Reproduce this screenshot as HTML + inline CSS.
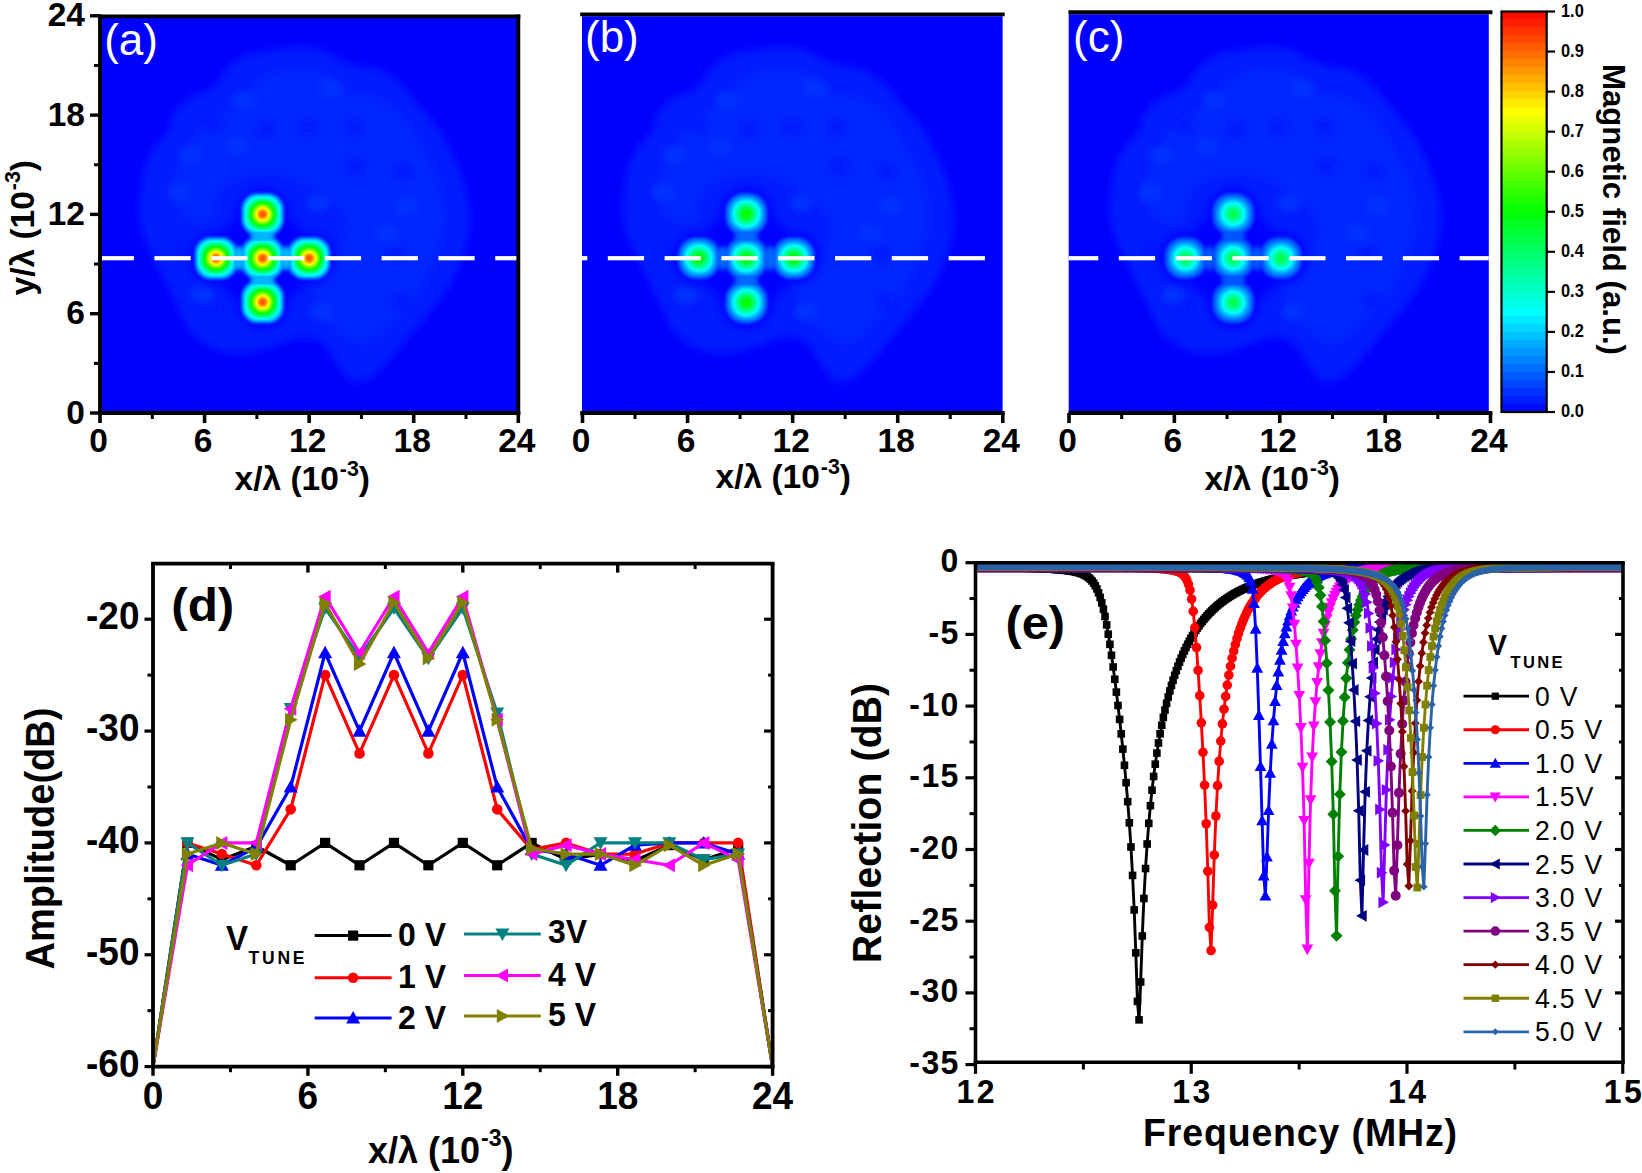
<!DOCTYPE html>
<html lang="en"><head><meta charset="utf-8"><title>Figure</title>
<style>html,body{margin:0;padding:0;background:#fff;}svg{display:block;}text{font-family:'Liberation Sans', Arial, sans-serif;}</style>
</head><body>
<svg width="1642" height="1173" viewBox="0 0 1642 1173">
<defs>
<filter id="bl" x="-20%" y="-20%" width="140%" height="140%"><feGaussianBlur stdDeviation="5"/></filter>
<filter id="bl2" x="-30%" y="-30%" width="160%" height="160%"><feGaussianBlur stdDeviation="3.6"/></filter>
<filter id="bl4" x="-10%" y="-10%" width="120%" height="120%"><feGaussianBlur stdDeviation="0.7"/></filter>
<filter id="bl3" x="-30%" y="-30%" width="160%" height="160%"><feGaussianBlur stdDeviation="2.2"/></filter>
</defs>
<rect x="0" y="0" width="1642" height="1173" fill="#fff"/>
<defs>
<g id="gao">
<rect x="-24" y="-24" width="48" height="48" rx="18.24" fill="#0023ff" opacity="0.12"/>
<rect x="-23.25" y="-23.25" width="46.5" height="46.5" rx="17.67" fill="#0033ff" opacity="0.27"/>
<rect x="-22.5" y="-22.5" width="45" height="45" rx="17.1" fill="#0043ff" opacity="0.42"/>
<rect x="-21.75" y="-21.75" width="43.5" height="43.5" rx="16.53" fill="#0053ff" opacity="0.57"/>
<rect x="-21" y="-21" width="42" height="42" rx="15.96" fill="#0071ff" opacity="0.72"/>
<rect x="-20.25" y="-20.25" width="40.5" height="40.5" rx="15.39" fill="#008fff" opacity="0.87"/>
<rect x="-19.5" y="-19.5" width="39" height="39" rx="14.82" fill="#00adff"/>
<rect x="-18.75" y="-18.75" width="37.5" height="37.5" rx="14.37" fill="#00caff"/>
<rect x="-18" y="-18" width="36" height="36" rx="14.16" fill="#00e8ff"/>
</g>
<g id="gai">
<rect x="-17.25" y="-17.25" width="34.5" height="34.5" rx="13.91" fill="#00fff8"/>
<rect x="-16.5" y="-16.5" width="33" height="33" rx="13.64" fill="#00ffd7"/>
<rect x="-15.75" y="-15.75" width="31.5" height="31.5" rx="13.34" fill="#00ffb6"/>
<rect x="-15" y="-15" width="30" height="30" rx="13" fill="#00ff95"/>
<rect x="-14.25" y="-14.25" width="28.5" height="28.5" rx="12.64" fill="#00ff72"/>
<rect x="-13.5" y="-13.5" width="27" height="27" rx="12.24" fill="#00ff4d"/>
<rect x="-12.75" y="-12.75" width="25.5" height="25.5" rx="11.81" fill="#00ff29"/>
<rect x="-12" y="-12" width="24" height="24" rx="11.36" fill="#00ff04"/>
<rect x="-11.25" y="-11.25" width="22.5" height="22.5" rx="10.88" fill="#21ff00"/>
<rect x="-10.5" y="-10.5" width="21" height="21" rx="10.36" fill="#45ff00"/>
<rect x="-9.75" y="-9.75" width="19.5" height="19.5" rx="9.75" fill="#6aff00"/>
<rect x="-9" y="-9" width="18" height="18" rx="9" fill="#8eff00"/>
<rect x="-8.25" y="-8.25" width="16.5" height="16.5" rx="8.25" fill="#b4ff00"/>
<rect x="-7.5" y="-7.5" width="15" height="15" rx="7.5" fill="#d9ff00"/>
<rect x="-6.75" y="-6.75" width="13.5" height="13.5" rx="6.75" fill="#ffff00"/>
<rect x="-6" y="-6" width="12" height="12" rx="6" fill="#ffe000"/>
<rect x="-5.25" y="-5.25" width="10.5" height="10.5" rx="5.25" fill="#ffc300"/>
<rect x="-4.5" y="-4.5" width="9" height="9" rx="4.5" fill="#ffa700"/>
<rect x="-3.75" y="-3.75" width="7.5" height="7.5" rx="3.75" fill="#ff8a00"/>
<rect x="-3" y="-3" width="6" height="6" rx="3" fill="#ff6d00"/>
<rect x="-2.25" y="-2.25" width="4.5" height="4.5" rx="2.25" fill="#ff6100"/>
<rect x="-1.5" y="-1.5" width="3" height="3" rx="1.5" fill="#ff5500"/>
<rect x="-0.75" y="-0.75" width="1.5" height="1.5" rx="0.75" fill="#ff4900"/>
</g>
<g id="gbo">
<rect x="-24" y="-24" width="48" height="48" rx="20.88" fill="#0014ff" opacity="0.12"/>
<rect x="-23.25" y="-23.25" width="46.5" height="46.5" rx="20.23" fill="#001dff" opacity="0.27"/>
<rect x="-22.5" y="-22.5" width="45" height="45" rx="19.57" fill="#0026ff" opacity="0.42"/>
<rect x="-21.75" y="-21.75" width="43.5" height="43.5" rx="18.92" fill="#002fff" opacity="0.57"/>
<rect x="-21" y="-21" width="42" height="42" rx="18.27" fill="#0040ff" opacity="0.72"/>
<rect x="-20.25" y="-20.25" width="40.5" height="40.5" rx="17.62" fill="#0051ff" opacity="0.87"/>
<rect x="-19.5" y="-19.5" width="39" height="39" rx="16.96" fill="#0061ff"/>
<rect x="-18.75" y="-18.75" width="37.5" height="37.5" rx="16.38" fill="#0072ff"/>
<rect x="-18" y="-18" width="36" height="36" rx="15.92" fill="#0083ff"/>
</g>
<g id="gbi">
<rect x="-17.25" y="-17.25" width="34.5" height="34.5" rx="15.44" fill="#0094ff"/>
<rect x="-16.5" y="-16.5" width="33" height="33" rx="14.95" fill="#00a6ff"/>
<rect x="-15.75" y="-15.75" width="31.5" height="31.5" rx="14.44" fill="#00b9ff"/>
<rect x="-15" y="-15" width="30" height="30" rx="13.92" fill="#00ccff"/>
<rect x="-14.25" y="-14.25" width="28.5" height="28.5" rx="13.38" fill="#00dfff"/>
<rect x="-13.5" y="-13.5" width="27" height="27" rx="12.82" fill="#00f4ff"/>
<rect x="-12.75" y="-12.75" width="25.5" height="25.5" rx="12.24" fill="#00fff5"/>
<rect x="-12" y="-12" width="24" height="24" rx="11.65" fill="#00ffe1"/>
<rect x="-11.25" y="-11.25" width="22.5" height="22.5" rx="11.05" fill="#00ffcc"/>
<rect x="-10.5" y="-10.5" width="21" height="21" rx="10.42" fill="#00ffb8"/>
<rect x="-9.75" y="-9.75" width="19.5" height="19.5" rx="9.75" fill="#00ffa3"/>
<rect x="-9" y="-9" width="18" height="18" rx="9" fill="#00ff8e"/>
<rect x="-8.25" y="-8.25" width="16.5" height="16.5" rx="8.25" fill="#00ff79"/>
<rect x="-7.5" y="-7.5" width="15" height="15" rx="7.5" fill="#00ff64"/>
<rect x="-6.75" y="-6.75" width="13.5" height="13.5" rx="6.75" fill="#00ff4f"/>
<rect x="-6" y="-6" width="12" height="12" rx="6" fill="#00ff3d"/>
<rect x="-5.25" y="-5.25" width="10.5" height="10.5" rx="5.25" fill="#00ff2d"/>
<rect x="-4.5" y="-4.5" width="9" height="9" rx="4.5" fill="#00ff1d"/>
<rect x="-3.75" y="-3.75" width="7.5" height="7.5" rx="3.75" fill="#00ff0d"/>
<rect x="-3" y="-3" width="6" height="6" rx="3" fill="#04ff00"/>
<rect x="-2.25" y="-2.25" width="4.5" height="4.5" rx="2.25" fill="#0aff00"/>
<rect x="-1.5" y="-1.5" width="3" height="3" rx="1.5" fill="#11ff00"/>
<rect x="-0.75" y="-0.75" width="1.5" height="1.5" rx="0.75" fill="#18ff00"/>
</g>
<g id="gco">
<rect x="-24" y="-24" width="48" height="48" rx="20.88" fill="#0010ff" opacity="0.12"/>
<rect x="-23.25" y="-23.25" width="46.5" height="46.5" rx="20.23" fill="#0018ff" opacity="0.27"/>
<rect x="-22.5" y="-22.5" width="45" height="45" rx="19.57" fill="#001fff" opacity="0.42"/>
<rect x="-21.75" y="-21.75" width="43.5" height="43.5" rx="18.92" fill="#0027ff" opacity="0.57"/>
<rect x="-21" y="-21" width="42" height="42" rx="18.27" fill="#0035ff" opacity="0.72"/>
<rect x="-20.25" y="-20.25" width="40.5" height="40.5" rx="17.62" fill="#0043ff" opacity="0.87"/>
<rect x="-19.5" y="-19.5" width="39" height="39" rx="16.96" fill="#0051ff"/>
<rect x="-18.75" y="-18.75" width="37.5" height="37.5" rx="16.38" fill="#005fff"/>
<rect x="-18" y="-18" width="36" height="36" rx="15.92" fill="#006dff"/>
</g>
<g id="gci">
<rect x="-17.25" y="-17.25" width="34.5" height="34.5" rx="15.44" fill="#007aff"/>
<rect x="-16.5" y="-16.5" width="33" height="33" rx="14.95" fill="#008aff"/>
<rect x="-15.75" y="-15.75" width="31.5" height="31.5" rx="14.44" fill="#009aff"/>
<rect x="-15" y="-15" width="30" height="30" rx="13.92" fill="#00a9ff"/>
<rect x="-14.25" y="-14.25" width="28.5" height="28.5" rx="13.38" fill="#00b9ff"/>
<rect x="-13.5" y="-13.5" width="27" height="27" rx="12.82" fill="#00caff"/>
<rect x="-12.75" y="-12.75" width="25.5" height="25.5" rx="12.24" fill="#00dcff"/>
<rect x="-12" y="-12" width="24" height="24" rx="11.65" fill="#00edff"/>
<rect x="-11.25" y="-11.25" width="22.5" height="22.5" rx="11.05" fill="#00feff"/>
<rect x="-10.5" y="-10.5" width="21" height="21" rx="10.42" fill="#00ffef"/>
<rect x="-9.75" y="-9.75" width="19.5" height="19.5" rx="9.75" fill="#00ffde"/>
<rect x="-9" y="-9" width="18" height="18" rx="9" fill="#00ffcd"/>
<rect x="-8.25" y="-8.25" width="16.5" height="16.5" rx="8.25" fill="#00ffbb"/>
<rect x="-7.5" y="-7.5" width="15" height="15" rx="7.5" fill="#00ffa9"/>
<rect x="-6.75" y="-6.75" width="13.5" height="13.5" rx="6.75" fill="#00ff98"/>
<rect x="-6" y="-6" width="12" height="12" rx="6" fill="#00ff89"/>
<rect x="-5.25" y="-5.25" width="10.5" height="10.5" rx="5.25" fill="#00ff7c"/>
<rect x="-4.5" y="-4.5" width="9" height="9" rx="4.5" fill="#00ff6f"/>
<rect x="-3.75" y="-3.75" width="7.5" height="7.5" rx="3.75" fill="#00ff61"/>
<rect x="-3" y="-3" width="6" height="6" rx="3" fill="#00ff54"/>
<rect x="-2.25" y="-2.25" width="4.5" height="4.5" rx="2.25" fill="#00ff4e"/>
<rect x="-1.5" y="-1.5" width="3" height="3" rx="1.5" fill="#00ff48"/>
<rect x="-0.75" y="-0.75" width="1.5" height="1.5" rx="0.75" fill="#00ff43"/>
</g>
</defs>
<rect x="101.5" y="18" width="415.5" height="393.5" fill="#0000ff" />
<clipPath id="cpa"><rect x="101.5" y="18" width="415.5" height="393.5"/></clipPath>
<g clip-path="url(#cpa)">
<g filter="url(#bl)">
<path d="M139.21,205.93C139.49,197.41 140.63,184.34 142.62,175.25C144.61,166.15 146.88,158.77 151.14,151.38C155.4,143.99 164.5,137.17 168.19,130.92C171.88,124.67 169.89,119.27 173.3,113.87C176.71,108.48 182.11,102.79 188.65,98.53C195.18,94.27 206.26,93.13 212.51,88.3C218.76,83.47 221.04,74.95 226.15,69.55C231.26,64.15 236.38,59.04 243.2,55.91C250.02,52.79 259.11,52.22 267.06,50.8C275.02,49.38 282.41,47.67 290.93,47.39C299.45,47.11 310.25,47.11 318.21,49.09C326.16,51.08 331.84,56.48 338.66,59.32C345.48,62.16 352.3,64.44 359.12,66.14C365.94,67.85 372.76,66.71 379.58,69.55C386.4,72.39 393.78,77.51 400.03,83.19C406.28,88.87 410.83,96.26 417.08,103.65C423.33,111.03 431.29,118.42 437.54,127.51C443.79,136.6 449.76,147.4 454.59,158.2C459.42,168.99 463.96,180.93 466.52,192.29C469.08,203.66 470.78,215.02 469.93,226.39C469.08,237.75 465.1,250.25 461.4,260.48C457.71,270.71 453.45,278.67 447.77,287.76C442.08,296.85 434.13,306.51 427.31,315.03C420.49,323.56 413.1,331.51 406.85,338.9C400.6,346.29 395.49,353.11 389.81,359.36C384.12,365.61 379.01,372.71 372.76,376.4C366.51,380.1 357.98,383.22 352.3,381.52C346.62,379.81 343.78,372.71 338.66,366.18C333.55,359.64 327.87,347.14 321.62,342.31C315.37,337.48 307.98,336.91 301.16,337.2C294.34,337.48 289.23,341.46 280.7,344.01C272.18,346.57 260.25,351.4 250.02,352.54C239.79,353.67 228.99,353.96 219.33,350.83C209.67,347.71 199.16,341.46 192.06,333.79C184.95,326.11 181.26,313.61 176.71,304.81C172.17,296 169.04,289.46 164.78,280.94C160.52,272.42 155.12,262.76 151.14,253.66C147.16,244.57 142.9,234.34 140.91,226.39C138.92,218.43 138.92,214.45 139.21,205.93Z" fill="#001aff"/>
<path d="M171.6,192.29C171.03,182.06 180.12,168.99 185.24,158.2C190.35,147.4 193.76,136.6 202.28,127.51C210.81,118.42 226.72,111.6 236.38,103.65C246.04,95.69 251.15,85.46 260.25,79.78C269.34,74.1 280.13,70.69 290.93,69.55C301.73,68.42 315.93,68.98 325.03,72.96C334.12,76.94 337.53,89.44 345.48,93.42C353.44,97.4 363.67,93.42 372.76,96.83C381.85,100.24 392.08,105.92 400.03,113.87C407.99,121.83 414.24,133.76 420.49,144.56C426.74,155.36 433.56,166.15 437.54,178.65C441.52,191.16 444.93,205.93 444.36,219.57C443.79,233.21 438.67,247.98 434.13,260.48C429.58,272.98 423.9,284.35 417.08,294.58C410.26,304.81 401.74,313.9 393.22,321.85C384.69,329.81 375.03,340.61 365.94,342.31C356.85,344.01 346.62,337.76 338.66,332.08C330.71,326.4 322.75,317.88 318.21,308.22C313.66,298.55 307.98,283.21 311.39,274.12C314.8,265.03 332.98,262.76 338.66,253.66C344.35,244.57 348.89,229.8 345.48,219.57C342.07,209.34 328.44,199.68 318.21,192.29C307.98,184.91 296.05,178.09 284.11,175.25C272.18,172.4 257.4,172.4 246.61,175.25C235.81,178.09 225.01,184.91 219.33,192.29C213.65,199.68 217.63,215.02 212.51,219.57C207.4,224.11 195.47,224.11 188.65,219.57C181.83,215.02 172.17,202.52 171.6,192.29Z" fill="#0026ff"/>
</g>
<g filter="url(#bl2)">
<ellipse cx="214.22" cy="124.79" rx="8" ry="6" fill="#0012ff"/>
<ellipse cx="265.36" cy="129.22" rx="8" ry="6" fill="#0012ff"/>
<ellipse cx="307.98" cy="127.51" rx="8" ry="6" fill="#0012ff"/>
<ellipse cx="354.01" cy="127.51" rx="8" ry="6" fill="#0012ff"/>
<ellipse cx="403.44" cy="171.84" rx="8" ry="6" fill="#0012ff"/>
<ellipse cx="355.71" cy="166.72" rx="8" ry="6" fill="#0012ff"/>
<ellipse cx="401.74" cy="301.4" rx="8" ry="6" fill="#0012ff"/>
<ellipse cx="396.62" cy="253.66" rx="8" ry="6" fill="#0012ff"/>
<ellipse cx="212.51" cy="308.22" rx="8" ry="6" fill="#0012ff"/>
<ellipse cx="181.83" cy="250.25" rx="8" ry="6" fill="#0012ff"/>
<ellipse cx="331.84" cy="88.3" rx="12" ry="9" fill="#0032ff"/>
<ellipse cx="190.35" cy="154.79" rx="12" ry="9" fill="#0032ff"/>
<ellipse cx="236.38" cy="146.26" rx="12" ry="9" fill="#0032ff"/>
<ellipse cx="180.12" cy="192.29" rx="12" ry="9" fill="#0032ff"/>
<ellipse cx="318.21" cy="202.52" rx="12" ry="9" fill="#0032ff"/>
<ellipse cx="321.62" cy="311.62" rx="12" ry="9" fill="#0032ff"/>
<ellipse cx="386.4" cy="233.21" rx="12" ry="9" fill="#0032ff"/>
<ellipse cx="243.2" cy="100.24" rx="12" ry="9" fill="#0032ff"/>
<ellipse cx="406.85" cy="205.93" rx="12" ry="9" fill="#0032ff"/>
<ellipse cx="202.28" cy="294.58" rx="12" ry="9" fill="#0032ff"/>
</g>
<g filter="url(#bl)">
<rect x="190" y="232.2" width="145.2" height="52" rx="26" fill="#0002ff"/>
<rect x="236.6" y="188.3" width="52" height="139.8" rx="26" fill="#0002ff"/>
<circle cx="262.6" cy="258.2" r="48" fill="#0002ff"/>
</g>
<g filter="url(#bl4)">
<use href="#gao" x="262.6" y="258.2"/>
<use href="#gao" x="216" y="258.2"/>
<use href="#gao" x="309.2" y="258.2"/>
<use href="#gao" x="262.6" y="214.3"/>
<use href="#gao" x="262.6" y="302.1"/>
</g>
<g filter="url(#bl3)">
<ellipse cx="239.3" cy="258.2" rx="6" ry="12" fill="#00b8ff"/>
<ellipse cx="285.9" cy="258.2" rx="6" ry="12" fill="#00b8ff"/>
<ellipse cx="262.6" cy="236.25" rx="12" ry="6" fill="#00b8ff"/>
<ellipse cx="262.6" cy="280.15" rx="12" ry="6" fill="#00b8ff"/>
</g>
<g filter="url(#bl4)">
<use href="#gai" x="262.6" y="258.2"/>
<use href="#gai" x="216" y="258.2"/>
<use href="#gai" x="309.2" y="258.2"/>
<use href="#gai" x="262.6" y="214.3"/>
<use href="#gai" x="262.6" y="302.1"/>
</g>
</g>
<clipPath id="dca"><rect x="101.5" y="0" width="415.5" height="430"/></clipPath>
<g clip-path="url(#dca)">
<rect x="97.6" y="256.1" width="36.3" height="4.2" fill="#fff"/>
<rect x="154.4" y="256.1" width="36.3" height="4.2" fill="#fff"/>
<rect x="211.2" y="256.1" width="36.3" height="4.2" fill="#fff"/>
<rect x="268" y="256.1" width="36.3" height="4.2" fill="#fff"/>
<rect x="324.8" y="256.1" width="36.3" height="4.2" fill="#fff"/>
<rect x="381.6" y="256.1" width="36.3" height="4.2" fill="#fff"/>
<rect x="438.4" y="256.1" width="36.3" height="4.2" fill="#fff"/>
<rect x="495.2" y="256.1" width="36.3" height="4.2" fill="#fff"/>
</g>
<line x1="98" y1="16.4" x2="520.3" y2="16.4" stroke="#000" stroke-width="3.9" />
<line x1="98" y1="413" x2="520.3" y2="413" stroke="#000" stroke-width="3.9" />
<line x1="100" y1="14.5" x2="100" y2="415" stroke="#000" stroke-width="3.9" />
<line x1="518.3" y1="14.5" x2="518.3" y2="415" stroke="#000" stroke-width="3.9" />
<line x1="100" y1="413" x2="100" y2="423" stroke="#000" stroke-width="3.6" />
<text x="98.5" y="451.5" font-size="33.5" font-weight="bold" text-anchor="middle" fill="#000" >0</text>
<line x1="152.29" y1="413" x2="152.29" y2="419" stroke="#000" stroke-width="3" />
<line x1="204.57" y1="413" x2="204.57" y2="423" stroke="#000" stroke-width="3.6" />
<text x="203.07" y="451.5" font-size="33.5" font-weight="bold" text-anchor="middle" fill="#000" >6</text>
<line x1="256.86" y1="413" x2="256.86" y2="419" stroke="#000" stroke-width="3" />
<line x1="309.15" y1="413" x2="309.15" y2="423" stroke="#000" stroke-width="3.6" />
<text x="307.65" y="451.5" font-size="33.5" font-weight="bold" text-anchor="middle" fill="#000" >12</text>
<line x1="361.44" y1="413" x2="361.44" y2="419" stroke="#000" stroke-width="3" />
<line x1="413.72" y1="413" x2="413.72" y2="423" stroke="#000" stroke-width="3.6" />
<text x="412.22" y="451.5" font-size="33.5" font-weight="bold" text-anchor="middle" fill="#000" >18</text>
<line x1="466.01" y1="413" x2="466.01" y2="419" stroke="#000" stroke-width="3" />
<line x1="518.3" y1="413" x2="518.3" y2="423" stroke="#000" stroke-width="3.6" />
<text x="516.8" y="451.5" font-size="33.5" font-weight="bold" text-anchor="middle" fill="#000" >24</text>
<text x="104.2" y="54.7" font-size="44" font-weight="normal" text-anchor="start" fill="#fff" >(a)</text>
<text x="234.5" y="490" font-size="33.5" font-weight="bold" fill="#000">x/λ (10<tspan font-size="21.44" dx="1" dy="-14.4">-3</tspan><tspan dy="14.4">)</tspan></text>
<line x1="90" y1="413" x2="100" y2="413" stroke="#000" stroke-width="3.4" />
<text x="85" y="423.5" font-size="33.5" font-weight="bold" text-anchor="end" fill="#000" >0</text>
<line x1="94" y1="363.35" x2="100" y2="363.35" stroke="#000" stroke-width="3" />
<line x1="90" y1="313.7" x2="100" y2="313.7" stroke="#000" stroke-width="3.4" />
<text x="85" y="324.2" font-size="33.5" font-weight="bold" text-anchor="end" fill="#000" >6</text>
<line x1="94" y1="264.05" x2="100" y2="264.05" stroke="#000" stroke-width="3" />
<line x1="90" y1="214.4" x2="100" y2="214.4" stroke="#000" stroke-width="3.4" />
<text x="85" y="224.9" font-size="33.5" font-weight="bold" text-anchor="end" fill="#000" >12</text>
<line x1="94" y1="164.75" x2="100" y2="164.75" stroke="#000" stroke-width="3" />
<line x1="90" y1="115.1" x2="100" y2="115.1" stroke="#000" stroke-width="3.4" />
<text x="85" y="125.6" font-size="33.5" font-weight="bold" text-anchor="end" fill="#000" >18</text>
<line x1="94" y1="65.45" x2="100" y2="65.45" stroke="#000" stroke-width="3" />
<line x1="90" y1="15.8" x2="100" y2="15.8" stroke="#000" stroke-width="3.4" />
<text x="85" y="26.3" font-size="33.5" font-weight="bold" text-anchor="end" fill="#000" >24</text>
<g transform="translate(34,295.5) rotate(-90)">
<text x="0" y="0" font-size="33.5" font-weight="bold" fill="#000">y/λ (10<tspan font-size="21.44" dx="1" dy="-14.4">-3</tspan><tspan dy="14.4">)</tspan></text>
</g>
<rect x="582" y="16.2" width="420.6" height="395.3" fill="#0000ff" />
<clipPath id="cpb"><rect x="582" y="16.2" width="420.6" height="395.3"/></clipPath>
<g clip-path="url(#cpb)">
<g filter="url(#bl)">
<path d="M623.01,205.93C623.29,197.41 624.43,184.34 626.42,175.25C628.41,166.15 630.68,158.77 634.94,151.38C639.2,143.99 648.3,137.17 651.99,130.92C655.68,124.67 653.69,119.27 657.1,113.87C660.51,108.48 665.91,102.79 672.45,98.53C678.98,94.27 690.06,93.13 696.31,88.3C702.56,83.47 704.84,74.95 709.95,69.55C715.06,64.15 720.18,59.04 727,55.91C733.82,52.79 742.91,52.22 750.86,50.8C758.82,49.38 766.21,47.67 774.73,47.39C783.25,47.11 794.05,47.11 802.01,49.09C809.96,51.08 815.64,56.48 822.46,59.32C829.28,62.16 836.1,64.44 842.92,66.14C849.74,67.85 856.56,66.71 863.38,69.55C870.2,72.39 877.58,77.51 883.83,83.19C890.08,88.87 894.63,96.26 900.88,103.65C907.13,111.03 915.09,118.42 921.34,127.51C927.59,136.6 933.56,147.4 938.39,158.2C943.22,168.99 947.76,180.93 950.32,192.29C952.88,203.66 954.58,215.02 953.73,226.39C952.88,237.75 948.9,250.25 945.2,260.48C941.51,270.71 937.25,278.67 931.57,287.76C925.88,296.85 917.93,306.51 911.11,315.03C904.29,323.56 896.9,331.51 890.65,338.9C884.4,346.29 879.29,353.11 873.61,359.36C867.92,365.61 862.81,372.71 856.56,376.4C850.31,380.1 841.78,383.22 836.1,381.52C830.42,379.81 827.58,372.71 822.46,366.18C817.35,359.64 811.67,347.14 805.42,342.31C799.17,337.48 791.78,336.91 784.96,337.2C778.14,337.48 773.03,341.46 764.5,344.01C755.98,346.57 744.05,351.4 733.82,352.54C723.59,353.67 712.79,353.96 703.13,350.83C693.47,347.71 682.96,341.46 675.86,333.79C668.75,326.11 665.06,313.61 660.51,304.81C655.97,296 652.84,289.46 648.58,280.94C644.32,272.42 638.92,262.76 634.94,253.66C630.96,244.57 626.7,234.34 624.71,226.39C622.72,218.43 622.72,214.45 623.01,205.93Z" fill="#001aff"/>
<path d="M655.4,192.29C654.83,182.06 663.92,168.99 669.04,158.2C674.15,147.4 677.56,136.6 686.08,127.51C694.61,118.42 710.52,111.6 720.18,103.65C729.84,95.69 734.95,85.46 744.05,79.78C753.14,74.1 763.93,70.69 774.73,69.55C785.53,68.42 799.73,68.98 808.83,72.96C817.92,76.94 821.33,89.44 829.28,93.42C837.24,97.4 847.47,93.42 856.56,96.83C865.65,100.24 875.88,105.92 883.83,113.87C891.79,121.83 898.04,133.76 904.29,144.56C910.54,155.36 917.36,166.15 921.34,178.65C925.32,191.16 928.73,205.93 928.16,219.57C927.59,233.21 922.47,247.98 917.93,260.48C913.38,272.98 907.7,284.35 900.88,294.58C894.06,304.81 885.54,313.9 877.02,321.85C868.49,329.81 858.83,340.61 849.74,342.31C840.65,344.01 830.42,337.76 822.46,332.08C814.51,326.4 806.55,317.88 802.01,308.22C797.46,298.55 791.78,283.21 795.19,274.12C798.6,265.03 816.78,262.76 822.46,253.66C828.15,244.57 832.69,229.8 829.28,219.57C825.87,209.34 812.24,199.68 802.01,192.29C791.78,184.91 779.85,178.09 767.91,175.25C755.98,172.4 741.2,172.4 730.41,175.25C719.61,178.09 708.81,184.91 703.13,192.29C697.45,199.68 701.43,215.02 696.31,219.57C691.2,224.11 679.27,224.11 672.45,219.57C665.63,215.02 655.97,202.52 655.4,192.29Z" fill="#0026ff"/>
</g>
<g filter="url(#bl2)">
<ellipse cx="698.02" cy="124.79" rx="8" ry="6" fill="#0012ff"/>
<ellipse cx="749.16" cy="129.22" rx="8" ry="6" fill="#0012ff"/>
<ellipse cx="791.78" cy="127.51" rx="8" ry="6" fill="#0012ff"/>
<ellipse cx="837.81" cy="127.51" rx="8" ry="6" fill="#0012ff"/>
<ellipse cx="887.24" cy="171.84" rx="8" ry="6" fill="#0012ff"/>
<ellipse cx="839.51" cy="166.72" rx="8" ry="6" fill="#0012ff"/>
<ellipse cx="885.54" cy="301.4" rx="8" ry="6" fill="#0012ff"/>
<ellipse cx="880.42" cy="253.66" rx="8" ry="6" fill="#0012ff"/>
<ellipse cx="696.31" cy="308.22" rx="8" ry="6" fill="#0012ff"/>
<ellipse cx="665.63" cy="250.25" rx="8" ry="6" fill="#0012ff"/>
<ellipse cx="815.64" cy="88.3" rx="12" ry="9" fill="#0032ff"/>
<ellipse cx="674.15" cy="154.79" rx="12" ry="9" fill="#0032ff"/>
<ellipse cx="720.18" cy="146.26" rx="12" ry="9" fill="#0032ff"/>
<ellipse cx="663.92" cy="192.29" rx="12" ry="9" fill="#0032ff"/>
<ellipse cx="802.01" cy="202.52" rx="12" ry="9" fill="#0032ff"/>
<ellipse cx="805.42" cy="311.62" rx="12" ry="9" fill="#0032ff"/>
<ellipse cx="870.2" cy="233.21" rx="12" ry="9" fill="#0032ff"/>
<ellipse cx="727" cy="100.24" rx="12" ry="9" fill="#0032ff"/>
<ellipse cx="890.65" cy="205.93" rx="12" ry="9" fill="#0032ff"/>
<ellipse cx="686.08" cy="294.58" rx="12" ry="9" fill="#0032ff"/>
</g>
<g filter="url(#bl)">
<rect x="672.9" y="232.2" width="147" height="52" rx="26" fill="#0002ff"/>
<rect x="720.4" y="188" width="52" height="140.4" rx="26" fill="#0002ff"/>
<circle cx="746.4" cy="258.2" r="48" fill="#0002ff"/>
</g>
<g filter="url(#bl4)">
<use href="#gbo" x="746.4" y="258.2"/>
<use href="#gbo" x="698.9" y="258.2"/>
<use href="#gbo" x="793.9" y="258.2"/>
<use href="#gbo" x="746.4" y="214"/>
<use href="#gbo" x="746.4" y="302.4"/>
</g>
<g filter="url(#bl3)">
<ellipse cx="722.65" cy="258.2" rx="6" ry="12" fill="#0068ff"/>
<ellipse cx="770.15" cy="258.2" rx="6" ry="12" fill="#0068ff"/>
<ellipse cx="746.4" cy="236.1" rx="12" ry="6" fill="#0068ff"/>
<ellipse cx="746.4" cy="280.3" rx="12" ry="6" fill="#0068ff"/>
</g>
<g filter="url(#bl4)">
<use href="#gbi" x="746.4" y="258.2"/>
<use href="#gbi" x="698.9" y="258.2"/>
<use href="#gbi" x="793.9" y="258.2"/>
<use href="#gbi" x="746.4" y="214"/>
<use href="#gbi" x="746.4" y="302.4"/>
</g>
</g>
<clipPath id="dcb"><rect x="582" y="0" width="420.6" height="430"/></clipPath>
<g clip-path="url(#dcb)">
<rect x="551" y="256.1" width="36.3" height="4.2" fill="#fff"/>
<rect x="607.8" y="256.1" width="36.3" height="4.2" fill="#fff"/>
<rect x="664.6" y="256.1" width="36.3" height="4.2" fill="#fff"/>
<rect x="721.4" y="256.1" width="36.3" height="4.2" fill="#fff"/>
<rect x="778.2" y="256.1" width="36.3" height="4.2" fill="#fff"/>
<rect x="835" y="256.1" width="36.3" height="4.2" fill="#fff"/>
<rect x="891.8" y="256.1" width="36.3" height="4.2" fill="#fff"/>
<rect x="948.6" y="256.1" width="36.3" height="4.2" fill="#fff"/>
</g>
<line x1="580.2" y1="14.4" x2="1004.7" y2="14.4" stroke="#000" stroke-width="3.9" />
<line x1="580.2" y1="413" x2="1004.7" y2="413" stroke="#000" stroke-width="3.9" />
<line x1="582.5" y1="413" x2="582.5" y2="423" stroke="#000" stroke-width="3.6" />
<text x="581" y="451.5" font-size="33.5" font-weight="bold" text-anchor="middle" fill="#000" >0</text>
<line x1="635.04" y1="413" x2="635.04" y2="419" stroke="#000" stroke-width="3" />
<line x1="687.58" y1="413" x2="687.58" y2="423" stroke="#000" stroke-width="3.6" />
<text x="686.08" y="451.5" font-size="33.5" font-weight="bold" text-anchor="middle" fill="#000" >6</text>
<line x1="740.11" y1="413" x2="740.11" y2="419" stroke="#000" stroke-width="3" />
<line x1="792.65" y1="413" x2="792.65" y2="423" stroke="#000" stroke-width="3.6" />
<text x="791.15" y="451.5" font-size="33.5" font-weight="bold" text-anchor="middle" fill="#000" >12</text>
<line x1="845.19" y1="413" x2="845.19" y2="419" stroke="#000" stroke-width="3" />
<line x1="897.72" y1="413" x2="897.72" y2="423" stroke="#000" stroke-width="3.6" />
<text x="896.22" y="451.5" font-size="33.5" font-weight="bold" text-anchor="middle" fill="#000" >18</text>
<line x1="950.26" y1="413" x2="950.26" y2="419" stroke="#000" stroke-width="3" />
<line x1="1002.8" y1="413" x2="1002.8" y2="423" stroke="#000" stroke-width="3.6" />
<text x="1001.3" y="451.5" font-size="33.5" font-weight="bold" text-anchor="middle" fill="#000" >24</text>
<text x="585" y="52.2" font-size="44" font-weight="normal" text-anchor="start" fill="#fff" >(b)</text>
<text x="715.5" y="488.3" font-size="33.5" font-weight="bold" fill="#000">x/λ (10<tspan font-size="21.44" dx="1" dy="-14.4">-3</tspan><tspan dy="14.4">)</tspan></text>
<rect x="1068.7" y="14.2" width="420.1" height="397.3" fill="#0000ff" />
<clipPath id="cpc"><rect x="1068.7" y="14.2" width="420.1" height="397.3"/></clipPath>
<g clip-path="url(#cpc)">
<g filter="url(#bl)">
<path d="M1109.91,205.93C1110.19,197.41 1111.33,184.34 1113.32,175.25C1115.31,166.15 1117.58,158.77 1121.84,151.38C1126.1,143.99 1135.2,137.17 1138.89,130.92C1142.58,124.67 1140.59,119.27 1144,113.87C1147.41,108.48 1152.81,102.79 1159.35,98.53C1165.88,94.27 1176.96,93.13 1183.21,88.3C1189.46,83.47 1191.74,74.95 1196.85,69.55C1201.96,64.15 1207.08,59.04 1213.9,55.91C1220.72,52.79 1229.81,52.22 1237.76,50.8C1245.72,49.38 1253.11,47.67 1261.63,47.39C1270.15,47.11 1280.95,47.11 1288.91,49.09C1296.86,51.08 1302.54,56.48 1309.36,59.32C1316.18,62.16 1323,64.44 1329.82,66.14C1336.64,67.85 1343.46,66.71 1350.28,69.55C1357.1,72.39 1364.48,77.51 1370.73,83.19C1376.98,88.87 1381.53,96.26 1387.78,103.65C1394.03,111.03 1401.99,118.42 1408.24,127.51C1414.49,136.6 1420.46,147.4 1425.29,158.2C1430.12,168.99 1434.66,180.93 1437.22,192.29C1439.78,203.66 1441.48,215.02 1440.63,226.39C1439.78,237.75 1435.8,250.25 1432.1,260.48C1428.41,270.71 1424.15,278.67 1418.47,287.76C1412.78,296.85 1404.83,306.51 1398.01,315.03C1391.19,323.56 1383.8,331.51 1377.55,338.9C1371.3,346.29 1366.19,353.11 1360.51,359.36C1354.82,365.61 1349.71,372.71 1343.46,376.4C1337.21,380.1 1328.68,383.22 1323,381.52C1317.32,379.81 1314.48,372.71 1309.36,366.18C1304.25,359.64 1298.57,347.14 1292.32,342.31C1286.07,337.48 1278.68,336.91 1271.86,337.2C1265.04,337.48 1259.93,341.46 1251.4,344.01C1242.88,346.57 1230.95,351.4 1220.72,352.54C1210.49,353.67 1199.69,353.96 1190.03,350.83C1180.37,347.71 1169.86,341.46 1162.76,333.79C1155.65,326.11 1151.96,313.61 1147.41,304.81C1142.87,296 1139.74,289.46 1135.48,280.94C1131.22,272.42 1125.82,262.76 1121.84,253.66C1117.86,244.57 1113.6,234.34 1111.61,226.39C1109.62,218.43 1109.62,214.45 1109.91,205.93Z" fill="#001aff"/>
<path d="M1142.3,192.29C1141.73,182.06 1150.82,168.99 1155.94,158.2C1161.05,147.4 1164.46,136.6 1172.98,127.51C1181.51,118.42 1197.42,111.6 1207.08,103.65C1216.74,95.69 1221.85,85.46 1230.95,79.78C1240.04,74.1 1250.83,70.69 1261.63,69.55C1272.43,68.42 1286.63,68.98 1295.73,72.96C1304.82,76.94 1308.23,89.44 1316.18,93.42C1324.14,97.4 1334.37,93.42 1343.46,96.83C1352.55,100.24 1362.78,105.92 1370.73,113.87C1378.69,121.83 1384.94,133.76 1391.19,144.56C1397.44,155.36 1404.26,166.15 1408.24,178.65C1412.22,191.16 1415.63,205.93 1415.06,219.57C1414.49,233.21 1409.37,247.98 1404.83,260.48C1400.28,272.98 1394.6,284.35 1387.78,294.58C1380.96,304.81 1372.44,313.9 1363.92,321.85C1355.39,329.81 1345.73,340.61 1336.64,342.31C1327.55,344.01 1317.32,337.76 1309.36,332.08C1301.41,326.4 1293.45,317.88 1288.91,308.22C1284.36,298.55 1278.68,283.21 1282.09,274.12C1285.5,265.03 1303.68,262.76 1309.36,253.66C1315.05,244.57 1319.59,229.8 1316.18,219.57C1312.77,209.34 1299.14,199.68 1288.91,192.29C1278.68,184.91 1266.75,178.09 1254.81,175.25C1242.88,172.4 1228.1,172.4 1217.31,175.25C1206.51,178.09 1195.71,184.91 1190.03,192.29C1184.35,199.68 1188.33,215.02 1183.21,219.57C1178.1,224.11 1166.17,224.11 1159.35,219.57C1152.53,215.02 1142.87,202.52 1142.3,192.29Z" fill="#0026ff"/>
</g>
<g filter="url(#bl2)">
<ellipse cx="1184.92" cy="124.79" rx="8" ry="6" fill="#0012ff"/>
<ellipse cx="1236.06" cy="129.22" rx="8" ry="6" fill="#0012ff"/>
<ellipse cx="1278.68" cy="127.51" rx="8" ry="6" fill="#0012ff"/>
<ellipse cx="1324.71" cy="127.51" rx="8" ry="6" fill="#0012ff"/>
<ellipse cx="1374.14" cy="171.84" rx="8" ry="6" fill="#0012ff"/>
<ellipse cx="1326.41" cy="166.72" rx="8" ry="6" fill="#0012ff"/>
<ellipse cx="1372.44" cy="301.4" rx="8" ry="6" fill="#0012ff"/>
<ellipse cx="1367.32" cy="253.66" rx="8" ry="6" fill="#0012ff"/>
<ellipse cx="1183.21" cy="308.22" rx="8" ry="6" fill="#0012ff"/>
<ellipse cx="1152.53" cy="250.25" rx="8" ry="6" fill="#0012ff"/>
<ellipse cx="1302.54" cy="88.3" rx="12" ry="9" fill="#0032ff"/>
<ellipse cx="1161.05" cy="154.79" rx="12" ry="9" fill="#0032ff"/>
<ellipse cx="1207.08" cy="146.26" rx="12" ry="9" fill="#0032ff"/>
<ellipse cx="1150.82" cy="192.29" rx="12" ry="9" fill="#0032ff"/>
<ellipse cx="1288.91" cy="202.52" rx="12" ry="9" fill="#0032ff"/>
<ellipse cx="1292.32" cy="311.62" rx="12" ry="9" fill="#0032ff"/>
<ellipse cx="1357.1" cy="233.21" rx="12" ry="9" fill="#0032ff"/>
<ellipse cx="1213.9" cy="100.24" rx="12" ry="9" fill="#0032ff"/>
<ellipse cx="1377.55" cy="205.93" rx="12" ry="9" fill="#0032ff"/>
<ellipse cx="1172.98" cy="294.58" rx="12" ry="9" fill="#0032ff"/>
</g>
<g filter="url(#bl)">
<rect x="1159.5" y="232.2" width="147.6" height="52" rx="26" fill="#0002ff"/>
<rect x="1207.3" y="187.9" width="52" height="140.6" rx="26" fill="#0002ff"/>
<circle cx="1233.3" cy="258.2" r="48" fill="#0002ff"/>
</g>
<g filter="url(#bl4)">
<use href="#gco" x="1233.3" y="258.2"/>
<use href="#gco" x="1185.5" y="258.2"/>
<use href="#gco" x="1281.1" y="258.2"/>
<use href="#gco" x="1233.3" y="213.9"/>
<use href="#gco" x="1233.3" y="302.5"/>
</g>
<g filter="url(#bl3)">
<ellipse cx="1209.4" cy="258.2" rx="6" ry="12" fill="#0056ff"/>
<ellipse cx="1257.2" cy="258.2" rx="6" ry="12" fill="#0056ff"/>
<ellipse cx="1233.3" cy="236.05" rx="12" ry="6" fill="#0056ff"/>
<ellipse cx="1233.3" cy="280.35" rx="12" ry="6" fill="#0056ff"/>
</g>
<g filter="url(#bl4)">
<use href="#gci" x="1233.3" y="258.2"/>
<use href="#gci" x="1185.5" y="258.2"/>
<use href="#gci" x="1281.1" y="258.2"/>
<use href="#gci" x="1233.3" y="213.9"/>
<use href="#gci" x="1233.3" y="302.5"/>
</g>
</g>
<clipPath id="dcc"><rect x="1068.7" y="0" width="420.1" height="430"/></clipPath>
<g clip-path="url(#dcc)">
<rect x="1062" y="256.1" width="36.3" height="4.2" fill="#fff"/>
<rect x="1118.8" y="256.1" width="36.3" height="4.2" fill="#fff"/>
<rect x="1175.6" y="256.1" width="36.3" height="4.2" fill="#fff"/>
<rect x="1232.4" y="256.1" width="36.3" height="4.2" fill="#fff"/>
<rect x="1289.2" y="256.1" width="36.3" height="4.2" fill="#fff"/>
<rect x="1346" y="256.1" width="36.3" height="4.2" fill="#fff"/>
<rect x="1402.8" y="256.1" width="36.3" height="4.2" fill="#fff"/>
<rect x="1459.6" y="256.1" width="36.3" height="4.2" fill="#fff"/>
</g>
<line x1="1068.4" y1="12.3" x2="1492.4" y2="12.3" stroke="#000" stroke-width="3.9" />
<line x1="1068.4" y1="413" x2="1492.4" y2="413" stroke="#000" stroke-width="3.9" />
<line x1="1069" y1="413" x2="1069" y2="423" stroke="#000" stroke-width="3.6" />
<text x="1067.5" y="451.5" font-size="33.5" font-weight="bold" text-anchor="middle" fill="#000" >0</text>
<line x1="1121.69" y1="413" x2="1121.69" y2="419" stroke="#000" stroke-width="3" />
<line x1="1174.38" y1="413" x2="1174.38" y2="423" stroke="#000" stroke-width="3.6" />
<text x="1172.88" y="451.5" font-size="33.5" font-weight="bold" text-anchor="middle" fill="#000" >6</text>
<line x1="1227.06" y1="413" x2="1227.06" y2="419" stroke="#000" stroke-width="3" />
<line x1="1279.75" y1="413" x2="1279.75" y2="423" stroke="#000" stroke-width="3.6" />
<text x="1278.25" y="451.5" font-size="33.5" font-weight="bold" text-anchor="middle" fill="#000" >12</text>
<line x1="1332.44" y1="413" x2="1332.44" y2="419" stroke="#000" stroke-width="3" />
<line x1="1385.12" y1="413" x2="1385.12" y2="423" stroke="#000" stroke-width="3.6" />
<text x="1383.62" y="451.5" font-size="33.5" font-weight="bold" text-anchor="middle" fill="#000" >18</text>
<line x1="1437.81" y1="413" x2="1437.81" y2="419" stroke="#000" stroke-width="3" />
<line x1="1490.5" y1="413" x2="1490.5" y2="423" stroke="#000" stroke-width="3.6" />
<text x="1489" y="451.5" font-size="33.5" font-weight="bold" text-anchor="middle" fill="#000" >24</text>
<text x="1073" y="52.2" font-size="44" font-weight="normal" text-anchor="start" fill="#fff" >(c)</text>
<text x="1204.5" y="489.5" font-size="33.5" font-weight="bold" fill="#000">x/λ (10<tspan font-size="21.44" dx="1" dy="-14.4">-3</tspan><tspan dy="14.4">)</tspan></text>
<rect x="1501.5" y="11.2" width="45.2" height="8.91" fill="#ff0a00" />
<rect x="1501.5" y="19.21" width="45.2" height="8.91" fill="#ff1f00" />
<rect x="1501.5" y="27.22" width="45.2" height="8.91" fill="#ff3300" />
<rect x="1501.5" y="35.23" width="45.2" height="8.91" fill="#ff4700" />
<rect x="1501.5" y="43.24" width="45.2" height="8.91" fill="#ff5c00" />
<rect x="1501.5" y="51.25" width="45.2" height="8.91" fill="#ff7000" />
<rect x="1501.5" y="59.26" width="45.2" height="8.91" fill="#ff8500" />
<rect x="1501.5" y="67.27" width="45.2" height="8.91" fill="#ff9900" />
<rect x="1501.5" y="75.28" width="45.2" height="8.91" fill="#ffad00" />
<rect x="1501.5" y="83.29" width="45.2" height="8.91" fill="#ffc200" />
<rect x="1501.5" y="91.3" width="45.2" height="8.91" fill="#ffd600" />
<rect x="1501.5" y="99.31" width="45.2" height="8.91" fill="#ffeb00" />
<rect x="1501.5" y="107.32" width="45.2" height="8.91" fill="#ffff00" />
<rect x="1501.5" y="115.33" width="45.2" height="8.91" fill="#ebff00" />
<rect x="1501.5" y="123.34" width="45.2" height="8.91" fill="#d6ff00" />
<rect x="1501.5" y="131.35" width="45.2" height="8.91" fill="#c2ff00" />
<rect x="1501.5" y="139.36" width="45.2" height="8.91" fill="#adff00" />
<rect x="1501.5" y="147.37" width="45.2" height="8.91" fill="#99ff00" />
<rect x="1501.5" y="155.38" width="45.2" height="8.91" fill="#85ff00" />
<rect x="1501.5" y="163.39" width="45.2" height="8.91" fill="#70ff00" />
<rect x="1501.5" y="171.4" width="45.2" height="8.91" fill="#5cff00" />
<rect x="1501.5" y="179.41" width="45.2" height="8.91" fill="#47ff00" />
<rect x="1501.5" y="187.42" width="45.2" height="8.91" fill="#33ff00" />
<rect x="1501.5" y="195.43" width="45.2" height="8.91" fill="#1fff00" />
<rect x="1501.5" y="203.44" width="45.2" height="8.91" fill="#0aff00" />
<rect x="1501.5" y="211.45" width="45.2" height="8.91" fill="#00ff0a" />
<rect x="1501.5" y="219.46" width="45.2" height="8.91" fill="#00ff1f" />
<rect x="1501.5" y="227.47" width="45.2" height="8.91" fill="#00ff33" />
<rect x="1501.5" y="235.48" width="45.2" height="8.91" fill="#00ff47" />
<rect x="1501.5" y="243.49" width="45.2" height="8.91" fill="#00ff5c" />
<rect x="1501.5" y="251.5" width="45.2" height="8.91" fill="#00ff70" />
<rect x="1501.5" y="259.51" width="45.2" height="8.91" fill="#00ff85" />
<rect x="1501.5" y="267.52" width="45.2" height="8.91" fill="#00ff99" />
<rect x="1501.5" y="275.53" width="45.2" height="8.91" fill="#00ffad" />
<rect x="1501.5" y="283.54" width="45.2" height="8.91" fill="#00ffc2" />
<rect x="1501.5" y="291.55" width="45.2" height="8.91" fill="#00ffd6" />
<rect x="1501.5" y="299.56" width="45.2" height="8.91" fill="#00ffeb" />
<rect x="1501.5" y="307.57" width="45.2" height="8.91" fill="#00ffff" />
<rect x="1501.5" y="315.58" width="45.2" height="8.91" fill="#00ebff" />
<rect x="1501.5" y="323.59" width="45.2" height="8.91" fill="#00d6ff" />
<rect x="1501.5" y="331.6" width="45.2" height="8.91" fill="#00c2ff" />
<rect x="1501.5" y="339.61" width="45.2" height="8.91" fill="#00adff" />
<rect x="1501.5" y="347.62" width="45.2" height="8.91" fill="#0099ff" />
<rect x="1501.5" y="355.63" width="45.2" height="8.91" fill="#0085ff" />
<rect x="1501.5" y="363.64" width="45.2" height="8.91" fill="#0070ff" />
<rect x="1501.5" y="371.65" width="45.2" height="8.91" fill="#005cff" />
<rect x="1501.5" y="379.66" width="45.2" height="8.91" fill="#0047ff" />
<rect x="1501.5" y="387.67" width="45.2" height="8.91" fill="#0033ff" />
<rect x="1501.5" y="395.68" width="45.2" height="8.91" fill="#001fff" />
<rect x="1501.5" y="403.69" width="45.2" height="8.91" fill="#000aff" />
<rect x="1501.5" y="11.5" width="45.2" height="400.5" fill="none" stroke="#000" stroke-width="2.2"/>
<line x1="1546.7" y1="412" x2="1555" y2="412" stroke="#000" stroke-width="2.2" />
<text x="1561" y="417.3" font-size="17.6" font-weight="bold" text-anchor="start" fill="#000" textLength="22.8" lengthAdjust="spacingAndGlyphs">0.0</text>
<line x1="1546.7" y1="371.95" x2="1555" y2="371.95" stroke="#000" stroke-width="2.2" />
<text x="1561" y="377.25" font-size="17.6" font-weight="bold" text-anchor="start" fill="#000" textLength="22.8" lengthAdjust="spacingAndGlyphs">0.1</text>
<line x1="1546.7" y1="331.9" x2="1555" y2="331.9" stroke="#000" stroke-width="2.2" />
<text x="1561" y="337.2" font-size="17.6" font-weight="bold" text-anchor="start" fill="#000" textLength="22.8" lengthAdjust="spacingAndGlyphs">0.2</text>
<line x1="1546.7" y1="291.85" x2="1555" y2="291.85" stroke="#000" stroke-width="2.2" />
<text x="1561" y="297.15" font-size="17.6" font-weight="bold" text-anchor="start" fill="#000" textLength="22.8" lengthAdjust="spacingAndGlyphs">0.3</text>
<line x1="1546.7" y1="251.8" x2="1555" y2="251.8" stroke="#000" stroke-width="2.2" />
<text x="1561" y="257.1" font-size="17.6" font-weight="bold" text-anchor="start" fill="#000" textLength="22.8" lengthAdjust="spacingAndGlyphs">0.4</text>
<line x1="1546.7" y1="211.75" x2="1555" y2="211.75" stroke="#000" stroke-width="2.2" />
<text x="1561" y="217.05" font-size="17.6" font-weight="bold" text-anchor="start" fill="#000" textLength="22.8" lengthAdjust="spacingAndGlyphs">0.5</text>
<line x1="1546.7" y1="171.7" x2="1555" y2="171.7" stroke="#000" stroke-width="2.2" />
<text x="1561" y="177" font-size="17.6" font-weight="bold" text-anchor="start" fill="#000" textLength="22.8" lengthAdjust="spacingAndGlyphs">0.6</text>
<line x1="1546.7" y1="131.65" x2="1555" y2="131.65" stroke="#000" stroke-width="2.2" />
<text x="1561" y="136.95" font-size="17.6" font-weight="bold" text-anchor="start" fill="#000" textLength="22.8" lengthAdjust="spacingAndGlyphs">0.7</text>
<line x1="1546.7" y1="91.6" x2="1555" y2="91.6" stroke="#000" stroke-width="2.2" />
<text x="1561" y="96.9" font-size="17.6" font-weight="bold" text-anchor="start" fill="#000" textLength="22.8" lengthAdjust="spacingAndGlyphs">0.8</text>
<line x1="1546.7" y1="51.55" x2="1555" y2="51.55" stroke="#000" stroke-width="2.2" />
<text x="1561" y="56.85" font-size="17.6" font-weight="bold" text-anchor="start" fill="#000" textLength="22.8" lengthAdjust="spacingAndGlyphs">0.9</text>
<line x1="1546.7" y1="11.5" x2="1555" y2="11.5" stroke="#000" stroke-width="2.2" />
<text x="1561" y="16.8" font-size="17.6" font-weight="bold" text-anchor="start" fill="#000" textLength="22.8" lengthAdjust="spacingAndGlyphs">1.0</text>
<g transform="translate(1602.5,64) rotate(90)">
<text x="0" y="0" font-size="30.5" font-weight="bold" text-anchor="start" fill="#000" textLength="291" lengthAdjust="spacingAndGlyphs">Magnetic field (a.u.)</text>
</g>
<clipPath id="cpd"><rect x="153" y="563.6" width="621.6" height="503.1"/></clipPath>
<g clip-path="url(#cpd)">
<polyline points="153,1066.6 187.42,842.9 221.84,859.68 256.27,846.26 290.69,865.27 325.11,842.9 359.53,865.27 393.96,842.9 428.38,865.27 462.8,842.9 497.22,865.27 531.64,842.9 566.07,859.68 600.49,854.09 634.91,860.8 669.33,845.14 703.76,859.68 738.18,848.49 772.6,1066.6" fill="none" stroke="#000000" stroke-width="3.2" stroke-linejoin="round"/>
<rect x="182.32" y="837.8" width="10.2" height="10.2" fill="#000000"/>
<rect x="216.74" y="854.58" width="10.2" height="10.2" fill="#000000"/>
<rect x="251.17" y="841.16" width="10.2" height="10.2" fill="#000000"/>
<rect x="285.59" y="860.17" width="10.2" height="10.2" fill="#000000"/>
<rect x="320.01" y="837.8" width="10.2" height="10.2" fill="#000000"/>
<rect x="354.43" y="860.17" width="10.2" height="10.2" fill="#000000"/>
<rect x="388.86" y="837.8" width="10.2" height="10.2" fill="#000000"/>
<rect x="423.28" y="860.17" width="10.2" height="10.2" fill="#000000"/>
<rect x="457.7" y="837.8" width="10.2" height="10.2" fill="#000000"/>
<rect x="492.12" y="860.17" width="10.2" height="10.2" fill="#000000"/>
<rect x="526.54" y="837.8" width="10.2" height="10.2" fill="#000000"/>
<rect x="560.97" y="854.58" width="10.2" height="10.2" fill="#000000"/>
<rect x="595.39" y="848.99" width="10.2" height="10.2" fill="#000000"/>
<rect x="629.81" y="855.7" width="10.2" height="10.2" fill="#000000"/>
<rect x="664.23" y="840.04" width="10.2" height="10.2" fill="#000000"/>
<rect x="698.66" y="854.58" width="10.2" height="10.2" fill="#000000"/>
<rect x="733.08" y="843.39" width="10.2" height="10.2" fill="#000000"/>
<polyline points="153,1066.6 187.42,842.9 221.84,854.09 256.27,865.27 290.69,809.35 325.11,675.12 359.53,753.42 393.96,675.12 428.38,753.42 462.8,675.12 497.22,809.35 531.64,849.61 566.07,842.9 600.49,854.09 634.91,854.09 669.33,842.9 703.76,842.9 738.18,842.9 772.6,1066.6" fill="none" stroke="#ff0000" stroke-width="3.2" stroke-linejoin="round"/>
<circle cx="187.42" cy="842.9" r="5.3" fill="#ff0000"/>
<circle cx="221.84" cy="854.09" r="5.3" fill="#ff0000"/>
<circle cx="256.27" cy="865.27" r="5.3" fill="#ff0000"/>
<circle cx="290.69" cy="809.35" r="5.3" fill="#ff0000"/>
<circle cx="325.11" cy="675.12" r="5.3" fill="#ff0000"/>
<circle cx="359.53" cy="753.42" r="5.3" fill="#ff0000"/>
<circle cx="393.96" cy="675.12" r="5.3" fill="#ff0000"/>
<circle cx="428.38" cy="753.42" r="5.3" fill="#ff0000"/>
<circle cx="462.8" cy="675.12" r="5.3" fill="#ff0000"/>
<circle cx="497.22" cy="809.35" r="5.3" fill="#ff0000"/>
<circle cx="531.64" cy="849.61" r="5.3" fill="#ff0000"/>
<circle cx="566.07" cy="842.9" r="5.3" fill="#ff0000"/>
<circle cx="600.49" cy="854.09" r="5.3" fill="#ff0000"/>
<circle cx="634.91" cy="854.09" r="5.3" fill="#ff0000"/>
<circle cx="669.33" cy="842.9" r="5.3" fill="#ff0000"/>
<circle cx="703.76" cy="842.9" r="5.3" fill="#ff0000"/>
<circle cx="738.18" cy="842.9" r="5.3" fill="#ff0000"/>
<polyline points="153,1066.6 187.42,854.09 221.84,865.27 256.27,847.37 290.69,786.98 325.11,652.75 359.53,731.05 393.96,652.75 428.38,731.05 462.8,652.75 497.22,786.98 531.64,849.61 566.07,854.09 600.49,865.27 634.91,845.14 669.33,842.9 703.76,842.9 738.18,854.09 772.6,1066.6" fill="none" stroke="#0000ff" stroke-width="3.2" stroke-linejoin="round"/>
<path d="M180.42,859.69L194.42,859.69L187.42,847.09Z" fill="#0000ff"/>
<path d="M214.84,870.87L228.84,870.87L221.84,858.27Z" fill="#0000ff"/>
<path d="M249.27,852.97L263.27,852.97L256.27,840.37Z" fill="#0000ff"/>
<path d="M283.69,792.58L297.69,792.58L290.69,779.98Z" fill="#0000ff"/>
<path d="M318.11,658.36L332.11,658.36L325.11,645.75Z" fill="#0000ff"/>
<path d="M352.53,736.65L366.53,736.65L359.53,724.05Z" fill="#0000ff"/>
<path d="M386.96,658.36L400.96,658.36L393.96,645.75Z" fill="#0000ff"/>
<path d="M421.38,736.65L435.38,736.65L428.38,724.05Z" fill="#0000ff"/>
<path d="M455.8,658.36L469.8,658.36L462.8,645.75Z" fill="#0000ff"/>
<path d="M490.22,792.58L504.22,792.58L497.22,779.98Z" fill="#0000ff"/>
<path d="M524.64,855.21L538.64,855.21L531.64,842.61Z" fill="#0000ff"/>
<path d="M559.07,859.69L573.07,859.69L566.07,847.09Z" fill="#0000ff"/>
<path d="M593.49,870.87L607.49,870.87L600.49,858.27Z" fill="#0000ff"/>
<path d="M627.91,850.74L641.91,850.74L634.91,838.14Z" fill="#0000ff"/>
<path d="M662.33,848.5L676.33,848.5L669.33,835.9Z" fill="#0000ff"/>
<path d="M696.76,848.5L710.76,848.5L703.76,835.9Z" fill="#0000ff"/>
<path d="M731.18,859.69L745.18,859.69L738.18,847.09Z" fill="#0000ff"/>
<polyline points="153,1066.6 187.42,842.9 221.84,865.27 256.27,854.09 290.69,708.68 325.11,608.02 359.53,657.23 393.96,608.02 428.38,658.35 462.8,608.02 497.22,713.15 531.64,854.09 566.07,865.27 600.49,842.9 634.91,842.9 669.33,842.9 703.76,859.68 738.18,854.09 772.6,1066.6" fill="none" stroke="#008080" stroke-width="3.2" stroke-linejoin="round"/>
<path d="M180.42,837.3L194.42,837.3L187.42,849.9Z" fill="#008080"/>
<path d="M214.84,859.67L228.84,859.67L221.84,872.27Z" fill="#008080"/>
<path d="M249.27,848.49L263.27,848.49L256.27,861.09Z" fill="#008080"/>
<path d="M283.69,703.08L297.69,703.08L290.69,715.68Z" fill="#008080"/>
<path d="M318.11,602.42L332.11,602.42L325.11,615.02Z" fill="#008080"/>
<path d="M352.53,651.63L366.53,651.63L359.53,664.23Z" fill="#008080"/>
<path d="M386.96,602.42L400.96,602.42L393.96,615.02Z" fill="#008080"/>
<path d="M421.38,652.75L435.38,652.75L428.38,665.35Z" fill="#008080"/>
<path d="M455.8,602.42L469.8,602.42L462.8,615.02Z" fill="#008080"/>
<path d="M490.22,707.55L504.22,707.55L497.22,720.15Z" fill="#008080"/>
<path d="M524.64,848.49L538.64,848.49L531.64,861.09Z" fill="#008080"/>
<path d="M559.07,859.67L573.07,859.67L566.07,872.27Z" fill="#008080"/>
<path d="M593.49,837.3L607.49,837.3L600.49,849.9Z" fill="#008080"/>
<path d="M627.91,837.3L641.91,837.3L634.91,849.9Z" fill="#008080"/>
<path d="M662.33,837.3L676.33,837.3L669.33,849.9Z" fill="#008080"/>
<path d="M696.76,854.08L710.76,854.08L703.76,866.68Z" fill="#008080"/>
<path d="M731.18,848.49L745.18,848.49L738.18,861.09Z" fill="#008080"/>
<polyline points="153,1066.6 187.42,865.27 221.84,842.9 256.27,842.9 290.69,708.68 325.11,596.83 359.53,652.75 393.96,596.83 428.38,652.75 462.8,596.83 497.22,719.87 531.64,854.09 566.07,845.14 600.49,854.09 634.91,859.68 669.33,865.27 703.76,842.9 738.18,859.68 772.6,1066.6" fill="none" stroke="#ff00ff" stroke-width="3.2" stroke-linejoin="round"/>
<path d="M193.02,858.27L193.02,872.27L180.42,865.27Z" fill="#ff00ff"/>
<path d="M227.44,835.9L227.44,849.9L214.84,842.9Z" fill="#ff00ff"/>
<path d="M261.87,835.9L261.87,849.9L249.27,842.9Z" fill="#ff00ff"/>
<path d="M296.29,701.68L296.29,715.68L283.69,708.68Z" fill="#ff00ff"/>
<path d="M330.71,589.83L330.71,603.83L318.11,596.83Z" fill="#ff00ff"/>
<path d="M365.13,645.75L365.13,659.75L352.53,652.75Z" fill="#ff00ff"/>
<path d="M399.56,589.83L399.56,603.83L386.96,596.83Z" fill="#ff00ff"/>
<path d="M433.98,645.75L433.98,659.75L421.38,652.75Z" fill="#ff00ff"/>
<path d="M468.4,589.83L468.4,603.83L455.8,596.83Z" fill="#ff00ff"/>
<path d="M502.82,712.87L502.82,726.87L490.22,719.87Z" fill="#ff00ff"/>
<path d="M537.24,847.09L537.24,861.09L524.64,854.09Z" fill="#ff00ff"/>
<path d="M571.67,838.14L571.67,852.14L559.07,845.14Z" fill="#ff00ff"/>
<path d="M606.09,847.09L606.09,861.09L593.49,854.09Z" fill="#ff00ff"/>
<path d="M640.51,852.68L640.51,866.68L627.91,859.68Z" fill="#ff00ff"/>
<path d="M674.93,858.27L674.93,872.27L662.33,865.27Z" fill="#ff00ff"/>
<path d="M709.36,835.9L709.36,849.9L696.76,842.9Z" fill="#ff00ff"/>
<path d="M743.78,852.68L743.78,866.68L731.18,859.68Z" fill="#ff00ff"/>
<polyline points="153,1066.6 187.42,854.09 221.84,842.9 256.27,854.09 290.69,719.87 325.11,603.54 359.53,663.94 393.96,602.42 428.38,658.35 462.8,602.42 497.22,719.87 531.64,848.49 566.07,854.09 600.49,854.09 634.91,865.27 669.33,845.14 703.76,865.27 738.18,854.09 772.6,1066.6" fill="none" stroke="#808000" stroke-width="3.2" stroke-linejoin="round"/>
<path d="M181.82,847.09L181.82,861.09L194.42,854.09Z" fill="#808000"/>
<path d="M216.24,835.9L216.24,849.9L228.84,842.9Z" fill="#808000"/>
<path d="M250.67,847.09L250.67,861.09L263.27,854.09Z" fill="#808000"/>
<path d="M285.09,712.87L285.09,726.87L297.69,719.87Z" fill="#808000"/>
<path d="M319.51,596.54L319.51,610.54L332.11,603.54Z" fill="#808000"/>
<path d="M353.93,656.94L353.93,670.94L366.53,663.94Z" fill="#808000"/>
<path d="M388.36,595.42L388.36,609.42L400.96,602.42Z" fill="#808000"/>
<path d="M422.78,651.35L422.78,665.35L435.38,658.35Z" fill="#808000"/>
<path d="M457.2,595.42L457.2,609.42L469.8,602.42Z" fill="#808000"/>
<path d="M491.62,712.87L491.62,726.87L504.22,719.87Z" fill="#808000"/>
<path d="M526.04,841.49L526.04,855.49L538.64,848.49Z" fill="#808000"/>
<path d="M560.47,847.09L560.47,861.09L573.07,854.09Z" fill="#808000"/>
<path d="M594.89,847.09L594.89,861.09L607.49,854.09Z" fill="#808000"/>
<path d="M629.31,858.27L629.31,872.27L641.91,865.27Z" fill="#808000"/>
<path d="M663.73,838.14L663.73,852.14L676.33,845.14Z" fill="#808000"/>
<path d="M698.16,858.27L698.16,872.27L710.76,865.27Z" fill="#808000"/>
<path d="M732.58,847.09L732.58,861.09L745.18,854.09Z" fill="#808000"/>
</g>
<line x1="151.1" y1="563.6" x2="774.5" y2="563.6" stroke="#000" stroke-width="3.8" />
<line x1="151.1" y1="1066.7" x2="774.5" y2="1066.7" stroke="#000" stroke-width="3.8" />
<line x1="153" y1="563.6" x2="153" y2="1066.7" stroke="#000" stroke-width="3.8" />
<line x1="772.6" y1="563.6" x2="772.6" y2="1066.7" stroke="#000" stroke-width="3.8" />
<line x1="144.5" y1="1066.6" x2="153" y2="1066.6" stroke="#000" stroke-width="3.2" />
<line x1="772.6" y1="1066.6" x2="764.1" y2="1066.6" stroke="#000" stroke-width="3.2" />
<text transform="translate(139.5,1076.5) scale(1,1.05)" font-size="37" font-weight="bold" text-anchor="end" fill="#000" >-60</text>
<line x1="147.5" y1="1010.68" x2="153" y2="1010.68" stroke="#000" stroke-width="3" />
<line x1="772.6" y1="1010.68" x2="768.1" y2="1010.68" stroke="#000" stroke-width="3" />
<line x1="144.5" y1="954.75" x2="153" y2="954.75" stroke="#000" stroke-width="3.2" />
<line x1="772.6" y1="954.75" x2="764.1" y2="954.75" stroke="#000" stroke-width="3.2" />
<text transform="translate(139.5,964.65) scale(1,1.05)" font-size="37" font-weight="bold" text-anchor="end" fill="#000" >-50</text>
<line x1="147.5" y1="898.83" x2="153" y2="898.83" stroke="#000" stroke-width="3" />
<line x1="772.6" y1="898.83" x2="768.1" y2="898.83" stroke="#000" stroke-width="3" />
<line x1="144.5" y1="842.9" x2="153" y2="842.9" stroke="#000" stroke-width="3.2" />
<line x1="772.6" y1="842.9" x2="764.1" y2="842.9" stroke="#000" stroke-width="3.2" />
<text transform="translate(139.5,852.8) scale(1,1.05)" font-size="37" font-weight="bold" text-anchor="end" fill="#000" >-40</text>
<line x1="147.5" y1="786.98" x2="153" y2="786.98" stroke="#000" stroke-width="3" />
<line x1="772.6" y1="786.98" x2="768.1" y2="786.98" stroke="#000" stroke-width="3" />
<line x1="144.5" y1="731.05" x2="153" y2="731.05" stroke="#000" stroke-width="3.2" />
<line x1="772.6" y1="731.05" x2="764.1" y2="731.05" stroke="#000" stroke-width="3.2" />
<text transform="translate(139.5,740.95) scale(1,1.05)" font-size="37" font-weight="bold" text-anchor="end" fill="#000" >-30</text>
<line x1="147.5" y1="675.12" x2="153" y2="675.12" stroke="#000" stroke-width="3" />
<line x1="772.6" y1="675.12" x2="768.1" y2="675.12" stroke="#000" stroke-width="3" />
<line x1="144.5" y1="619.2" x2="153" y2="619.2" stroke="#000" stroke-width="3.2" />
<line x1="772.6" y1="619.2" x2="764.1" y2="619.2" stroke="#000" stroke-width="3.2" />
<text transform="translate(139.5,629.1) scale(1,1.05)" font-size="37" font-weight="bold" text-anchor="end" fill="#000" >-20</text>
<line x1="153" y1="1066.7" x2="153" y2="1075.8" stroke="#000" stroke-width="3.4" />
<text transform="translate(153,1109) scale(1,1.05)" font-size="37" font-weight="bold" text-anchor="middle" fill="#000" >0</text>
<line x1="230.45" y1="1066.7" x2="230.45" y2="1072.2" stroke="#000" stroke-width="3" />
<line x1="230.45" y1="563.6" x2="230.45" y2="569.1" stroke="#000" stroke-width="3" />
<line x1="307.9" y1="1066.7" x2="307.9" y2="1075.8" stroke="#000" stroke-width="3.4" />
<line x1="307.9" y1="563.6" x2="307.9" y2="572.6" stroke="#000" stroke-width="3.4" />
<text transform="translate(307.9,1109) scale(1,1.05)" font-size="37" font-weight="bold" text-anchor="middle" fill="#000" >6</text>
<line x1="385.35" y1="1066.7" x2="385.35" y2="1072.2" stroke="#000" stroke-width="3" />
<line x1="385.35" y1="563.6" x2="385.35" y2="569.1" stroke="#000" stroke-width="3" />
<line x1="462.8" y1="1066.7" x2="462.8" y2="1075.8" stroke="#000" stroke-width="3.4" />
<line x1="462.8" y1="563.6" x2="462.8" y2="572.6" stroke="#000" stroke-width="3.4" />
<text transform="translate(462.8,1109) scale(1,1.05)" font-size="37" font-weight="bold" text-anchor="middle" fill="#000" >12</text>
<line x1="540.25" y1="1066.7" x2="540.25" y2="1072.2" stroke="#000" stroke-width="3" />
<line x1="540.25" y1="563.6" x2="540.25" y2="569.1" stroke="#000" stroke-width="3" />
<line x1="617.7" y1="1066.7" x2="617.7" y2="1075.8" stroke="#000" stroke-width="3.4" />
<line x1="617.7" y1="563.6" x2="617.7" y2="572.6" stroke="#000" stroke-width="3.4" />
<text transform="translate(617.7,1109) scale(1,1.05)" font-size="37" font-weight="bold" text-anchor="middle" fill="#000" >18</text>
<line x1="695.15" y1="1066.7" x2="695.15" y2="1072.2" stroke="#000" stroke-width="3" />
<line x1="695.15" y1="563.6" x2="695.15" y2="569.1" stroke="#000" stroke-width="3" />
<line x1="772.6" y1="1066.7" x2="772.6" y2="1075.8" stroke="#000" stroke-width="3.4" />
<text transform="translate(772.6,1109) scale(1,1.05)" font-size="37" font-weight="bold" text-anchor="middle" fill="#000" >24</text>
<text transform="translate(368,1162.5) scale(1,1.05)" font-size="36" font-weight="bold" fill="#000">x/λ (10<tspan font-size="23.04" dx="1" dy="-15.48">-3</tspan><tspan dy="15.48">)</tspan></text>
<g transform="translate(54.3,969.5) rotate(-90)">
<text transform="translate(0,0) scale(1,1.05)" font-size="38" font-weight="bold" text-anchor="start" fill="#000" textLength="262" lengthAdjust="spacingAndGlyphs">Amplitude(dB)</text>
</g>
<text x="171.3" y="621.3" font-size="46.5" font-weight="bold" text-anchor="start" fill="#000" textLength="63" lengthAdjust="spacingAndGlyphs">(d)</text>
<text transform="translate(226,949.6) scale(1,1.05)" font-size="33" font-weight="bold" text-anchor="start" fill="#000" >V</text>
<text transform="translate(248.5,963.8) scale(1,1.05)" font-size="17.5" font-weight="bold" text-anchor="start" fill="#000" textLength="56" lengthAdjust="spacing">TUNE</text>
<line x1="314.7" y1="935.6" x2="391.6" y2="935.6" stroke="#000000" stroke-width="3" />
<rect x="348.05" y="930.5" width="10.2" height="10.2" fill="#000000"/>
<text transform="translate(398,945.5) scale(1,1.05)" font-size="32" font-weight="bold" text-anchor="start" fill="#000" >0 V</text>
<line x1="314.7" y1="977.7" x2="391.6" y2="977.7" stroke="#ff0000" stroke-width="3" />
<circle cx="353.15" cy="977.7" r="5.3" fill="#ff0000"/>
<text transform="translate(398,988) scale(1,1.05)" font-size="32" font-weight="bold" text-anchor="start" fill="#000" >1 V</text>
<line x1="314.7" y1="1017.9" x2="391.6" y2="1017.9" stroke="#0000ff" stroke-width="3" />
<path d="M346.15,1023.5L360.15,1023.5L353.15,1010.9Z" fill="#0000ff"/>
<text transform="translate(398,1028.6) scale(1,1.05)" font-size="32" font-weight="bold" text-anchor="start" fill="#000" >2 V</text>
<line x1="464" y1="934" x2="540.8" y2="934" stroke="#008080" stroke-width="3" />
<path d="M495.4,928.4L509.4,928.4L502.4,941Z" fill="#008080"/>
<text transform="translate(548,943) scale(1,1.05)" font-size="32" font-weight="bold" text-anchor="start" fill="#000" >3V</text>
<line x1="464" y1="975.6" x2="540.8" y2="975.6" stroke="#ff00ff" stroke-width="3" />
<path d="M508,968.6L508,982.6L495.4,975.6Z" fill="#ff00ff"/>
<text transform="translate(548,986.3) scale(1,1.05)" font-size="32" font-weight="bold" text-anchor="start" fill="#000" >4 V</text>
<line x1="464" y1="1016" x2="540.8" y2="1016" stroke="#808000" stroke-width="3" />
<path d="M496.8,1009L496.8,1023L509.4,1016Z" fill="#808000"/>
<text transform="translate(548,1026) scale(1,1.05)" font-size="32" font-weight="bold" text-anchor="start" fill="#000" >5 V</text>
<defs>
<marker id="m0" markerUnits="userSpaceOnUse" markerWidth="16" markerHeight="16" refX="8" refY="8" viewBox="0 0 16 16"><rect x="4.2" y="4.2" width="7.6" height="7.6" fill="#000000"/></marker>
<marker id="m1" markerUnits="userSpaceOnUse" markerWidth="16" markerHeight="16" refX="8" refY="8" viewBox="0 0 16 16"><circle cx="8" cy="8" r="4.8" fill="#ff0000"/></marker>
<marker id="m2" markerUnits="userSpaceOnUse" markerWidth="16" markerHeight="16" refX="8" refY="8" viewBox="0 0 16 16"><path d="M2.1,12.72L13.9,12.72L8,2.1Z" fill="#0000ff"/></marker>
<marker id="m3" markerUnits="userSpaceOnUse" markerWidth="16" markerHeight="16" refX="8" refY="8" viewBox="0 0 16 16"><path d="M2.1,3.28L13.9,3.28L8,13.9Z" fill="#ff00ff"/></marker>
<marker id="m4" markerUnits="userSpaceOnUse" markerWidth="16" markerHeight="16" refX="8" refY="8" viewBox="0 0 16 16"><path d="M2,8L8,2L14,8L8,14Z" fill="#008000"/></marker>
<marker id="m5" markerUnits="userSpaceOnUse" markerWidth="16" markerHeight="16" refX="8" refY="8" viewBox="0 0 16 16"><path d="M12.72,2.1L12.72,13.9L2.1,8Z" fill="#000080"/></marker>
<marker id="m6" markerUnits="userSpaceOnUse" markerWidth="16" markerHeight="16" refX="8" refY="8" viewBox="0 0 16 16"><path d="M3.28,2.1L3.28,13.9L13.9,8Z" fill="#8000ff"/></marker>
<marker id="m7" markerUnits="userSpaceOnUse" markerWidth="16" markerHeight="16" refX="8" refY="8" viewBox="0 0 16 16"><circle cx="8" cy="8" r="5" fill="#800080"/></marker>
<marker id="m8" markerUnits="userSpaceOnUse" markerWidth="16" markerHeight="16" refX="8" refY="8" viewBox="0 0 16 16"><path d="M3.6,8L8,3.6L12.4,8L8,12.4Z" fill="#800000"/></marker>
<marker id="m9" markerUnits="userSpaceOnUse" markerWidth="16" markerHeight="16" refX="8" refY="8" viewBox="0 0 16 16"><rect x="4.1" y="4.1" width="7.8" height="7.8" fill="#808000"/></marker>
<marker id="m10" markerUnits="userSpaceOnUse" markerWidth="16" markerHeight="16" refX="8" refY="8" viewBox="0 0 16 16"><path d="M4.3,8L8,4.3L11.7,8L8,11.7Z" fill="#2a63a8"/></marker>
</defs>
<clipPath id="cpe"><rect x="975.5" y="562.7" width="647.5" height="499.6"/></clipPath>
<g clip-path="url(#cpe)">
<polyline points="975.43,567.44 977.05,567.45 978.67,567.47 980.29,567.48 981.91,567.5 983.53,567.52 985.15,567.53 986.77,567.55 988.39,567.57 990.01,567.59 991.63,567.61 993.25,567.63 994.87,567.65 996.49,567.67 998.11,567.69 999.73,567.71 1001.35,567.74 1002.97,567.76 1004.59,567.79 1006.21,567.81 1007.83,567.84 1009.45,567.87 1011.07,567.9 1012.69,567.93 1014.31,567.96 1015.93,567.99 1017.55,568.02 1019.17,568.06 1020.79,568.1 1022.41,568.13 1024.03,568.17 1025.65,568.22 1027.27,568.26 1028.89,568.31 1030.51,568.35 1032.13,568.4 1033.75,568.45 1035.37,568.51 1036.99,568.57 1038.61,568.63 1040.23,568.69 1041.85,568.76 1043.47,568.83 1045.09,568.9 1046.71,568.98 1048.33,569.06 1049.95,569.15 1051.57,569.24 1053.19,569.34 1054.81,569.45 1056.43,569.56 1058.05,569.68 1059.67,569.81 1061.29,569.95 1062.91,570.1 1064.53,570.27 1066.15,570.45 1067.77,570.64 1069.39,570.86 1071.01,571.1 1072.63,571.37 1074.25,571.68 1075.87,572.02 1077.49,572.41 1079.11,572.86 1080.73,573.38 1082.35,573.99 1083.97,574.71 1085.59,575.55 1087.21,576.56 1088.83,577.78 1090.45,579.24 1092.07,581.01 1093.69,583.17 1095.31,585.79 1096.93,588.96 1098.55,592.79 1100.17,597.38 1101.79,602.82 1103.41,609.19 1105.03,616.54 1106.65,624.87 1108.27,634.16 1109.89,644.33 1111.51,655.3 1113.13,666.98 1114.75,679.27 1116.37,692.11 1117.99,705.47 1119.61,719.37 1121.23,733.88 1122.85,749.11 1124.47,765.28 1126.09,782.66 1127.71,801.64 1129.33,822.81 1130.95,846.98 1132.57,875.41 1134.19,909.93 1135.81,952.83 1137.43,1001.4 1139.05,1019.86 1140.67,981.97 1142.29,935.98 1143.91,898.48 1145.53,868.52 1147.15,843.99 1148.77,823.36 1150.39,805.65 1152.01,790.17 1153.63,776.46 1155.25,764.18 1156.87,753.09 1158.49,743 1160.11,733.76 1161.73,725.25 1163.35,717.39 1164.97,710.09 1166.59,703.3 1168.21,696.96 1169.83,691.02 1171.45,685.44 1173.07,680.21 1174.69,675.27 1176.31,670.62 1177.93,666.22 1179.55,662.06 1181.17,658.12 1182.79,654.39 1184.41,650.84 1186.03,647.47 1187.65,644.27 1189.27,641.23 1190.89,638.32 1192.51,635.56 1194.13,632.92 1195.75,630.4 1197.37,628 1198.99,625.71 1200.61,623.51 1202.23,621.41 1203.85,619.4 1205.47,617.48 1207.09,615.64 1208.71,613.87 1210.33,612.18 1211.95,610.56 1213.57,609 1215.19,607.51 1216.81,606.08 1218.43,604.7 1220.05,603.37 1221.67,602.1 1223.29,600.88 1224.91,599.7 1226.53,598.57 1228.15,597.48 1229.77,596.44 1231.39,595.43 1233.01,594.46 1234.63,593.52 1236.25,592.62 1237.87,591.75 1239.49,590.91 1241.11,590.1 1242.73,589.33 1244.35,588.57 1245.97,587.85 1247.59,587.15 1249.21,586.48 1250.83,585.83 1252.45,585.2 1254.07,584.59 1255.69,584.01 1257.31,583.44 1258.93,582.9 1260.55,582.37 1262.17,581.86 1263.79,581.37 1265.41,580.9 1267.03,580.44 1268.65,580 1270.27,579.57 1271.89,579.16 1273.51,578.76 1275.13,578.37 1276.75,578 1278.37,577.64 1279.99,577.3 1281.61,576.96 1283.23,576.64 1284.85,576.33 1286.47,576.02 1288.09,575.73 1289.71,575.45 1291.33,575.18 1292.95,574.92 1294.57,574.66 1296.19,574.42 1297.81,574.18 1299.43,573.95 1301.05,573.73 1302.67,573.52 1304.29,573.32 1305.91,573.12 1307.53,572.93 1309.15,572.74 1310.77,572.56 1312.39,572.39 1314.01,572.22 1315.63,572.06 1317.25,571.91 1318.87,571.76 1320.49,571.62 1322.11,571.48 1323.73,571.34 1325.35,571.21 1326.97,571.09 1328.59,570.97 1330.21,570.85 1331.83,570.74 1333.45,570.63 1335.07,570.52 1336.69,570.42 1338.31,570.33 1339.93,570.23 1341.55,570.14 1343.17,570.05 1344.79,569.97 1346.41,569.88 1348.03,569.81 1349.65,569.73 1351.27,569.66 1352.89,569.58 1354.51,569.51 1356.13,569.45 1357.75,569.38 1359.37,569.32 1360.99,569.26 1362.61,569.2 1364.23,569.15 1365.85,569.09 1367.47,569.04 1369.09,568.99 1370.71,568.94 1372.33,568.89 1373.95,568.85 1375.57,568.8 1377.19,568.76 1378.81,568.72 1380.43,568.68 1382.05,568.64 1383.67,568.6 1385.29,568.56 1386.91,568.53 1388.53,568.49 1390.15,568.46 1391.77,568.42 1393.39,568.39 1395.01,568.36 1396.63,568.33 1398.25,568.3 1399.87,568.28 1401.49,568.25 1403.11,568.22 1404.73,568.2 1406.35,568.17 1407.97,568.15 1409.59,568.12 1411.21,568.1 1412.83,568.08 1414.45,568.06 1416.07,568.03 1417.69,568.01 1419.31,567.99 1420.93,567.97 1422.55,567.96 1424.17,567.94 1425.79,567.92 1427.41,567.9 1429.03,567.88 1430.65,567.87 1432.27,567.85 1433.89,567.84 1435.51,567.82 1437.13,567.8 1438.75,567.79 1440.37,567.78 1441.99,567.76 1443.61,567.75 1445.23,567.73 1446.85,567.72 1448.47,567.71 1450.09,567.7 1451.71,567.68 1453.33,567.67 1454.95,567.66 1456.57,567.65 1458.19,567.64 1459.81,567.63 1461.43,567.61 1463.05,567.6 1464.67,567.59 1466.29,567.58 1467.91,567.57 1469.53,567.56 1471.15,567.55 1472.77,567.54 1474.39,567.54 1476.01,567.53 1477.63,567.52 1479.25,567.51 1480.87,567.5 1482.49,567.49 1484.11,567.48 1485.73,567.48 1487.35,567.47 1488.97,567.46 1490.59,567.45 1492.21,567.44 1493.83,567.44 1495.45,567.43 1497.07,567.42 1498.69,567.42 1500.31,567.41 1501.93,567.4 1503.55,567.4 1505.17,567.39 1506.79,567.38 1508.41,567.38 1510.03,567.37 1511.65,567.36 1513.27,567.36 1514.89,567.35 1516.51,567.35 1518.13,567.34 1519.75,567.33 1521.37,567.33 1522.99,567.32 1524.61,567.32 1526.23,567.31 1527.85,567.31 1529.47,567.3 1531.09,567.3 1532.71,567.29 1534.33,567.29 1535.95,567.28 1537.57,567.28 1539.19,567.27 1540.81,567.27 1542.43,567.26 1544.05,567.26 1545.67,567.25 1547.29,567.25 1548.91,567.25 1550.53,567.24 1552.15,567.24 1553.77,567.23 1555.39,567.23 1557.01,567.22 1558.63,567.22 1560.25,567.22 1561.87,567.21 1563.49,567.21 1565.11,567.2 1566.73,567.2 1568.35,567.2 1569.97,567.19 1571.59,567.19 1573.21,567.19 1574.83,567.18 1576.45,567.18 1578.07,567.18 1579.69,567.17 1581.31,567.17 1582.93,567.17 1584.55,567.16 1586.17,567.16 1587.79,567.16 1589.41,567.15 1591.03,567.15 1592.65,567.15 1594.27,567.14 1595.89,567.14 1597.51,567.14 1599.13,567.13 1600.75,567.13 1602.37,567.13 1603.99,567.12 1605.61,567.12 1607.23,567.12 1608.85,567.12 1610.47,567.11 1612.09,567.11 1613.71,567.11 1615.33,567.11 1616.95,567.1 1618.57,567.1 1620.19,567.1 1621.81,567.09 1623.43,567.09" fill="none" stroke="#000000" stroke-width="2.9" stroke-linejoin="round" marker-mid="url(#m0)"/>
<polyline points="974.53,566.8 976.15,566.81 977.77,566.81 979.39,566.81 981.01,566.81 982.63,566.81 984.25,566.81 985.87,566.81 987.49,566.81 989.11,566.82 990.73,566.82 992.35,566.82 993.97,566.82 995.59,566.82 997.21,566.82 998.83,566.83 1000.45,566.83 1002.07,566.83 1003.69,566.83 1005.31,566.83 1006.93,566.83 1008.55,566.84 1010.17,566.84 1011.79,566.84 1013.41,566.84 1015.03,566.84 1016.65,566.85 1018.27,566.85 1019.89,566.85 1021.51,566.85 1023.13,566.86 1024.75,566.86 1026.37,566.86 1027.99,566.86 1029.61,566.87 1031.23,566.87 1032.85,566.87 1034.47,566.87 1036.09,566.88 1037.71,566.88 1039.33,566.88 1040.95,566.89 1042.57,566.89 1044.19,566.89 1045.81,566.9 1047.43,566.9 1049.05,566.9 1050.67,566.91 1052.29,566.91 1053.91,566.92 1055.53,566.92 1057.15,566.93 1058.77,566.93 1060.39,566.93 1062.01,566.94 1063.63,566.94 1065.25,566.95 1066.87,566.95 1068.49,566.96 1070.11,566.97 1071.73,566.97 1073.35,566.98 1074.97,566.98 1076.59,566.99 1078.21,567 1079.83,567 1081.45,567.01 1083.07,567.02 1084.69,567.03 1086.31,567.04 1087.93,567.04 1089.55,567.05 1091.17,567.06 1092.79,567.07 1094.41,567.08 1096.03,567.09 1097.65,567.1 1099.27,567.11 1100.89,567.13 1102.51,567.14 1104.13,567.15 1105.75,567.16 1107.37,567.18 1108.99,567.19 1110.61,567.21 1112.23,567.22 1113.85,567.24 1115.47,567.26 1117.09,567.28 1118.71,567.3 1120.33,567.32 1121.95,567.34 1123.57,567.37 1125.19,567.39 1126.81,567.42 1128.43,567.44 1130.05,567.47 1131.67,567.5 1133.29,567.54 1134.91,567.57 1136.53,567.61 1138.15,567.65 1139.77,567.69 1141.39,567.74 1143.01,567.79 1144.63,567.84 1146.25,567.9 1147.87,567.96 1149.49,568.03 1151.11,568.1 1152.73,568.18 1154.35,568.26 1155.97,568.35 1157.59,568.45 1159.21,568.56 1160.83,568.68 1162.45,568.82 1164.07,568.97 1165.69,569.13 1167.31,569.32 1168.93,569.53 1170.55,569.77 1172.17,570.05 1173.79,570.38 1175.41,570.78 1177.03,571.26 1178.65,571.86 1180.27,572.63 1181.89,573.65 1183.51,575.05 1185.13,577.02 1186.75,579.86 1188.37,584.02 1189.99,590.15 1191.61,599.02 1193.23,611.37 1194.85,627.58 1196.47,647.49 1198.09,670.42 1199.71,695.66 1201.33,722.85 1202.95,752.31 1204.57,785.21 1206.19,823.74 1207.81,871.25 1209.43,927.46 1211.05,950.53 1212.67,905.12 1214.29,854.95 1215.91,816 1217.53,785.66 1219.15,761.24 1220.77,741.02 1222.39,723.91 1224.01,709.19 1225.63,696.38 1227.25,685.11 1228.87,675.12 1230.49,666.21 1232.11,658.22 1233.73,651.02 1235.35,644.52 1236.97,638.62 1238.59,633.26 1240.21,628.37 1241.83,623.9 1243.45,619.81 1245.07,616.06 1246.69,612.61 1248.31,609.44 1249.93,606.51 1251.55,603.81 1253.17,601.31 1254.79,599 1256.41,596.86 1258.03,594.87 1259.65,593.02 1261.27,591.31 1262.89,589.71 1264.51,588.23 1266.13,586.85 1267.75,585.56 1269.37,584.36 1270.99,583.24 1272.61,582.19 1274.23,581.21 1275.85,580.3 1277.47,579.45 1279.09,578.66 1280.71,577.92 1282.33,577.23 1283.95,576.58 1285.57,575.98 1287.19,575.41 1288.81,574.89 1290.43,574.4 1292.05,573.94 1293.67,573.51 1295.29,573.11 1296.91,572.74 1298.53,572.4 1300.15,572.07 1301.77,571.77 1303.39,571.49 1305.01,571.23 1306.63,570.98 1308.25,570.76 1309.87,570.54 1311.49,570.35 1313.11,570.16 1314.73,569.99 1316.35,569.83 1317.97,569.68 1319.59,569.54 1321.21,569.41 1322.83,569.28 1324.45,569.17 1326.07,569.06 1327.69,568.96 1329.31,568.87 1330.93,568.78 1332.55,568.7 1334.17,568.62 1335.79,568.54 1337.41,568.48 1339.03,568.41 1340.65,568.35 1342.27,568.29 1343.89,568.24 1345.51,568.19 1347.13,568.14 1348.75,568.09 1350.37,568.05 1351.99,568.01 1353.61,567.97 1355.23,567.93 1356.85,567.9 1358.47,567.86 1360.09,567.83 1361.71,567.8 1363.33,567.77 1364.95,567.75 1366.57,567.72 1368.19,567.69 1369.81,567.67 1371.43,567.65 1373.05,567.63 1374.67,567.6 1376.29,567.58 1377.91,567.56 1379.53,567.55 1381.15,567.53 1382.77,567.51 1384.39,567.49 1386.01,567.48 1387.63,567.46 1389.25,567.45 1390.87,567.43 1392.49,567.42 1394.11,567.4 1395.73,567.39 1397.35,567.38 1398.97,567.37 1400.59,567.35 1402.21,567.34 1403.83,567.33 1405.45,567.32 1407.07,567.31 1408.69,567.3 1410.31,567.29 1411.93,567.28 1413.55,567.27 1415.17,567.26 1416.79,567.25 1418.41,567.24 1420.03,567.24 1421.65,567.23 1423.27,567.22 1424.89,567.21 1426.51,567.2 1428.13,567.2 1429.75,567.19 1431.37,567.18 1432.99,567.17 1434.61,567.17 1436.23,567.16 1437.85,567.15 1439.47,567.15 1441.09,567.14 1442.71,567.14 1444.33,567.13 1445.95,567.12 1447.57,567.12 1449.19,567.11 1450.81,567.11 1452.43,567.1 1454.05,567.1 1455.67,567.09 1457.29,567.09 1458.91,567.08 1460.53,567.08 1462.15,567.07 1463.77,567.07 1465.39,567.06 1467.01,567.06 1468.63,567.06 1470.25,567.05 1471.87,567.05 1473.49,567.04 1475.11,567.04 1476.73,567.03 1478.35,567.03 1479.97,567.03 1481.59,567.02 1483.21,567.02 1484.83,567.02 1486.45,567.01 1488.07,567.01 1489.69,567.01 1491.31,567 1492.93,567 1494.55,567 1496.17,566.99 1497.79,566.99 1499.41,566.99 1501.03,566.98 1502.65,566.98 1504.27,566.98 1505.89,566.97 1507.51,566.97 1509.13,566.97 1510.75,566.97 1512.37,566.96 1513.99,566.96 1515.61,566.96 1517.23,566.96 1518.85,566.95 1520.47,566.95 1522.09,566.95 1523.71,566.95 1525.33,566.94 1526.95,566.94 1528.57,566.94 1530.19,566.94 1531.81,566.93 1533.43,566.93 1535.05,566.93 1536.67,566.93 1538.29,566.93 1539.91,566.92 1541.53,566.92 1543.15,566.92 1544.77,566.92 1546.39,566.92 1548.01,566.91 1549.63,566.91 1551.25,566.91 1552.87,566.91 1554.49,566.91 1556.11,566.9 1557.73,566.9 1559.35,566.9 1560.97,566.9 1562.59,566.9 1564.21,566.9 1565.83,566.89 1567.45,566.89 1569.07,566.89 1570.69,566.89 1572.31,566.89 1573.93,566.89 1575.55,566.89 1577.17,566.88 1578.79,566.88 1580.41,566.88 1582.03,566.88 1583.65,566.88 1585.27,566.88 1586.89,566.88 1588.51,566.87 1590.13,566.87 1591.75,566.87 1593.37,566.87 1594.99,566.87 1596.61,566.87 1598.23,566.87 1599.85,566.86 1601.47,566.86 1603.09,566.86 1604.71,566.86 1606.33,566.86 1607.95,566.86 1609.57,566.86 1611.19,566.86 1612.81,566.86 1614.43,566.85 1616.05,566.85 1617.67,566.85 1619.29,566.85 1620.91,566.85 1622.53,566.85 1624.15,566.85" fill="none" stroke="#ff0000" stroke-width="2.9" stroke-linejoin="round" marker-mid="url(#m1)"/>
<polyline points="975.37,566.75 976.99,566.75 978.61,566.75 980.23,566.75 981.85,566.75 983.47,566.75 985.09,566.75 986.71,566.75 988.33,566.75 989.95,566.75 991.57,566.75 993.19,566.75 994.81,566.75 996.43,566.75 998.05,566.75 999.67,566.75 1001.29,566.75 1002.91,566.75 1004.53,566.75 1006.15,566.75 1007.77,566.75 1009.39,566.75 1011.01,566.75 1012.63,566.75 1014.25,566.76 1015.87,566.76 1017.49,566.76 1019.11,566.76 1020.73,566.76 1022.35,566.76 1023.97,566.76 1025.59,566.76 1027.21,566.76 1028.83,566.76 1030.45,566.76 1032.07,566.76 1033.69,566.76 1035.31,566.76 1036.93,566.76 1038.55,566.76 1040.17,566.77 1041.79,566.77 1043.41,566.77 1045.03,566.77 1046.65,566.77 1048.27,566.77 1049.89,566.77 1051.51,566.77 1053.13,566.77 1054.75,566.77 1056.37,566.77 1057.99,566.77 1059.61,566.78 1061.23,566.78 1062.85,566.78 1064.47,566.78 1066.09,566.78 1067.71,566.78 1069.33,566.78 1070.95,566.78 1072.57,566.78 1074.19,566.78 1075.81,566.79 1077.43,566.79 1079.05,566.79 1080.67,566.79 1082.29,566.79 1083.91,566.79 1085.53,566.79 1087.15,566.79 1088.77,566.8 1090.39,566.8 1092.01,566.8 1093.63,566.8 1095.25,566.8 1096.87,566.8 1098.49,566.81 1100.11,566.81 1101.73,566.81 1103.35,566.81 1104.97,566.81 1106.59,566.82 1108.21,566.82 1109.83,566.82 1111.45,566.82 1113.07,566.82 1114.69,566.83 1116.31,566.83 1117.93,566.83 1119.55,566.83 1121.17,566.84 1122.79,566.84 1124.41,566.84 1126.03,566.85 1127.65,566.85 1129.27,566.85 1130.89,566.86 1132.51,566.86 1134.13,566.86 1135.75,566.87 1137.37,566.87 1138.99,566.87 1140.61,566.88 1142.23,566.88 1143.85,566.89 1145.47,566.89 1147.09,566.9 1148.71,566.9 1150.33,566.91 1151.95,566.91 1153.57,566.92 1155.19,566.92 1156.81,566.93 1158.43,566.94 1160.05,566.94 1161.67,566.95 1163.29,566.96 1164.91,566.97 1166.53,566.98 1168.15,566.98 1169.77,566.99 1171.39,567 1173.01,567.01 1174.63,567.02 1176.25,567.03 1177.87,567.05 1179.49,567.06 1181.11,567.07 1182.73,567.09 1184.35,567.1 1185.97,567.12 1187.59,567.14 1189.21,567.15 1190.83,567.17 1192.45,567.19 1194.07,567.22 1195.69,567.24 1197.31,567.26 1198.93,567.29 1200.55,567.32 1202.17,567.35 1203.79,567.39 1205.41,567.42 1207.03,567.46 1208.65,567.51 1210.27,567.55 1211.89,567.6 1213.51,567.66 1215.13,567.72 1216.75,567.79 1218.37,567.87 1219.99,567.95 1221.61,568.04 1223.23,568.15 1224.85,568.26 1226.47,568.39 1228.09,568.54 1229.71,568.71 1231.33,568.9 1232.95,569.13 1234.57,569.38 1236.19,569.69 1237.81,570.04 1239.43,570.47 1241.05,570.99 1242.67,571.63 1244.29,572.46 1245.91,573.56 1247.53,575.11 1249.15,577.5 1250.77,581.54 1252.39,589 1254.01,603.32 1255.63,629.11 1257.25,667.92 1258.87,715.3 1260.49,766.32 1262.11,820.56 1263.73,875.75 1265.35,895.75 1266.97,856.76 1268.59,810.34 1270.21,773.15 1271.83,743.97 1273.45,720.56 1275.07,701.34 1276.69,685.27 1278.31,671.66 1279.93,660 1281.55,649.92 1283.17,641.16 1284.79,633.49 1286.41,626.76 1288.03,620.81 1289.65,615.53 1291.27,610.85 1292.89,606.67 1294.51,602.93 1296.13,599.58 1297.75,596.57 1299.37,593.85 1300.99,591.41 1302.61,589.2 1304.23,587.2 1305.85,585.39 1307.47,583.74 1309.09,582.25 1310.71,580.9 1312.33,579.67 1313.95,578.56 1315.57,577.54 1317.19,576.62 1318.81,575.78 1320.43,575.02 1322.05,574.33 1323.67,573.71 1325.29,573.14 1326.91,572.62 1328.53,572.15 1330.15,571.73 1331.77,571.35 1333.39,571 1335.01,570.68 1336.63,570.4 1338.25,570.14 1339.87,569.9 1341.49,569.69 1343.11,569.49 1344.73,569.31 1346.35,569.15 1347.97,569 1349.59,568.87 1351.21,568.75 1352.83,568.64 1354.45,568.53 1356.07,568.44 1357.69,568.35 1359.31,568.27 1360.93,568.2 1362.55,568.13 1364.17,568.07 1365.79,568.01 1367.41,567.96 1369.03,567.91 1370.65,567.86 1372.27,567.82 1373.89,567.77 1375.51,567.74 1377.13,567.7 1378.75,567.67 1380.37,567.63 1381.99,567.6 1383.61,567.58 1385.23,567.55 1386.85,567.52 1388.47,567.5 1390.09,567.48 1391.71,567.46 1393.33,567.43 1394.95,567.41 1396.57,567.4 1398.19,567.38 1399.81,567.36 1401.43,567.34 1403.05,567.33 1404.67,567.31 1406.29,567.3 1407.91,567.29 1409.53,567.27 1411.15,567.26 1412.77,567.25 1414.39,567.23 1416.01,567.22 1417.63,567.21 1419.25,567.2 1420.87,567.19 1422.49,567.18 1424.11,567.17 1425.73,567.16 1427.35,567.15 1428.97,567.14 1430.59,567.14 1432.21,567.13 1433.83,567.12 1435.45,567.11 1437.07,567.1 1438.69,567.1 1440.31,567.09 1441.93,567.08 1443.55,567.08 1445.17,567.07 1446.79,567.06 1448.41,567.06 1450.03,567.05 1451.65,567.05 1453.27,567.04 1454.89,567.03 1456.51,567.03 1458.13,567.02 1459.75,567.02 1461.37,567.01 1462.99,567.01 1464.61,567 1466.23,567 1467.85,566.99 1469.47,566.99 1471.09,566.99 1472.71,566.98 1474.33,566.98 1475.95,566.97 1477.57,566.97 1479.19,566.97 1480.81,566.96 1482.43,566.96 1484.05,566.95 1485.67,566.95 1487.29,566.95 1488.91,566.94 1490.53,566.94 1492.15,566.94 1493.77,566.94 1495.39,566.93 1497.01,566.93 1498.63,566.93 1500.25,566.92 1501.87,566.92 1503.49,566.92 1505.11,566.91 1506.73,566.91 1508.35,566.91 1509.97,566.91 1511.59,566.9 1513.21,566.9 1514.83,566.9 1516.45,566.9 1518.07,566.89 1519.69,566.89 1521.31,566.89 1522.93,566.89 1524.55,566.89 1526.17,566.88 1527.79,566.88 1529.41,566.88 1531.03,566.88 1532.65,566.88 1534.27,566.87 1535.89,566.87 1537.51,566.87 1539.13,566.87 1540.75,566.87 1542.37,566.86 1543.99,566.86 1545.61,566.86 1547.23,566.86 1548.85,566.86 1550.47,566.86 1552.09,566.85 1553.71,566.85 1555.33,566.85 1556.95,566.85 1558.57,566.85 1560.19,566.85 1561.81,566.85 1563.43,566.84 1565.05,566.84 1566.67,566.84 1568.29,566.84 1569.91,566.84 1571.53,566.84 1573.15,566.84 1574.77,566.84 1576.39,566.83 1578.01,566.83 1579.63,566.83 1581.25,566.83 1582.87,566.83 1584.49,566.83 1586.11,566.83 1587.73,566.83 1589.35,566.82 1590.97,566.82 1592.59,566.82 1594.21,566.82 1595.83,566.82 1597.45,566.82 1599.07,566.82 1600.69,566.82 1602.31,566.82 1603.93,566.82 1605.55,566.81 1607.17,566.81 1608.79,566.81 1610.41,566.81 1612.03,566.81 1613.65,566.81 1615.27,566.81 1616.89,566.81 1618.51,566.81 1620.13,566.81 1621.75,566.81 1623.37,566.8" fill="none" stroke="#0000ff" stroke-width="2.9" stroke-linejoin="round" marker-mid="url(#m2)"/>
<polyline points="975.25,566.75 976.87,566.75 978.49,566.75 980.11,566.75 981.73,566.75 983.35,566.75 984.97,566.75 986.59,566.75 988.21,566.75 989.83,566.75 991.45,566.75 993.07,566.75 994.69,566.75 996.31,566.75 997.93,566.75 999.55,566.75 1001.17,566.75 1002.79,566.75 1004.41,566.75 1006.03,566.75 1007.65,566.75 1009.27,566.75 1010.89,566.75 1012.51,566.75 1014.13,566.75 1015.75,566.75 1017.37,566.76 1018.99,566.76 1020.61,566.76 1022.23,566.76 1023.85,566.76 1025.47,566.76 1027.09,566.76 1028.71,566.76 1030.33,566.76 1031.95,566.76 1033.57,566.76 1035.19,566.76 1036.81,566.76 1038.43,566.76 1040.05,566.76 1041.67,566.76 1043.29,566.76 1044.91,566.76 1046.53,566.76 1048.15,566.77 1049.77,566.77 1051.39,566.77 1053.01,566.77 1054.63,566.77 1056.25,566.77 1057.87,566.77 1059.49,566.77 1061.11,566.77 1062.73,566.77 1064.35,566.77 1065.97,566.77 1067.59,566.77 1069.21,566.77 1070.83,566.78 1072.45,566.78 1074.07,566.78 1075.69,566.78 1077.31,566.78 1078.93,566.78 1080.55,566.78 1082.17,566.78 1083.79,566.78 1085.41,566.78 1087.03,566.78 1088.65,566.79 1090.27,566.79 1091.89,566.79 1093.51,566.79 1095.13,566.79 1096.75,566.79 1098.37,566.79 1099.99,566.79 1101.61,566.79 1103.23,566.8 1104.85,566.8 1106.47,566.8 1108.09,566.8 1109.71,566.8 1111.33,566.8 1112.95,566.8 1114.57,566.81 1116.19,566.81 1117.81,566.81 1119.43,566.81 1121.05,566.81 1122.67,566.81 1124.29,566.82 1125.91,566.82 1127.53,566.82 1129.15,566.82 1130.77,566.82 1132.39,566.83 1134.01,566.83 1135.63,566.83 1137.25,566.83 1138.87,566.83 1140.49,566.84 1142.11,566.84 1143.73,566.84 1145.35,566.84 1146.97,566.85 1148.59,566.85 1150.21,566.85 1151.83,566.85 1153.45,566.86 1155.07,566.86 1156.69,566.86 1158.31,566.87 1159.93,566.87 1161.55,566.87 1163.17,566.88 1164.79,566.88 1166.41,566.88 1168.03,566.89 1169.65,566.89 1171.27,566.9 1172.89,566.9 1174.51,566.91 1176.13,566.91 1177.75,566.92 1179.37,566.92 1180.99,566.93 1182.61,566.93 1184.23,566.94 1185.85,566.94 1187.47,566.95 1189.09,566.96 1190.71,566.96 1192.33,566.97 1193.95,566.98 1195.57,566.99 1197.19,566.99 1198.81,567 1200.43,567.01 1202.05,567.02 1203.67,567.03 1205.29,567.04 1206.91,567.05 1208.53,567.06 1210.15,567.07 1211.77,567.08 1213.39,567.1 1215.01,567.11 1216.63,567.13 1218.25,567.14 1219.87,567.16 1221.49,567.17 1223.11,567.19 1224.73,567.21 1226.35,567.23 1227.97,567.25 1229.59,567.27 1231.21,567.3 1232.83,567.32 1234.45,567.35 1236.07,567.38 1237.69,567.41 1239.31,567.44 1240.93,567.48 1242.55,567.52 1244.17,567.56 1245.79,567.61 1247.41,567.65 1249.03,567.71 1250.65,567.76 1252.27,567.83 1253.89,567.9 1255.51,567.97 1257.13,568.05 1258.75,568.14 1260.37,568.24 1261.99,568.35 1263.61,568.48 1265.23,568.62 1266.85,568.77 1268.47,568.95 1270.09,569.16 1271.71,569.39 1273.33,569.67 1274.95,570.01 1276.57,570.41 1278.19,570.92 1279.81,571.57 1281.43,572.44 1283.05,573.64 1284.67,575.35 1286.29,577.89 1287.91,581.71 1289.53,587.5 1291.15,596.09 1292.77,608.26 1294.39,624.45 1296.01,644.54 1297.63,668.25 1299.25,695.64 1300.87,727.78 1302.49,767.43 1304.11,820.69 1305.73,899.86 1307.35,949.28 1308.97,863.47 1310.59,799.98 1312.21,757.3 1313.83,726.1 1315.45,702.02 1317.07,682.77 1318.69,667.02 1320.31,653.92 1321.93,642.9 1323.55,633.54 1325.17,625.53 1326.79,618.63 1328.41,612.66 1330.03,607.46 1331.65,602.92 1333.27,598.94 1334.89,595.44 1336.51,592.35 1338.13,589.61 1339.75,587.19 1341.37,585.04 1342.99,583.12 1344.61,581.42 1346.23,579.9 1347.85,578.55 1349.47,577.34 1351.09,576.27 1352.71,575.31 1354.33,574.46 1355.95,573.7 1357.57,573.03 1359.19,572.43 1360.81,571.89 1362.43,571.42 1364.05,571 1365.67,570.62 1367.29,570.29 1368.91,569.99 1370.53,569.73 1372.15,569.49 1373.77,569.28 1375.39,569.09 1377.01,568.92 1378.63,568.77 1380.25,568.64 1381.87,568.52 1383.49,568.41 1385.11,568.31 1386.73,568.21 1388.35,568.13 1389.97,568.06 1391.59,567.99 1393.21,567.93 1394.83,567.87 1396.45,567.82 1398.07,567.77 1399.69,567.72 1401.31,567.68 1402.93,567.64 1404.55,567.61 1406.17,567.57 1407.79,567.54 1409.41,567.51 1411.03,567.48 1412.65,567.46 1414.27,567.43 1415.89,567.41 1417.51,567.39 1419.13,567.37 1420.75,567.35 1422.37,567.33 1423.99,567.31 1425.61,567.29 1427.23,567.28 1428.85,567.26 1430.47,567.25 1432.09,567.23 1433.71,567.22 1435.33,567.2 1436.95,567.19 1438.57,567.18 1440.19,567.17 1441.81,567.16 1443.43,567.15 1445.05,567.14 1446.67,567.13 1448.29,567.12 1449.91,567.11 1451.53,567.1 1453.15,567.09 1454.77,567.08 1456.39,567.07 1458.01,567.07 1459.63,567.06 1461.25,567.05 1462.87,567.05 1464.49,567.04 1466.11,567.03 1467.73,567.03 1469.35,567.02 1470.97,567.01 1472.59,567.01 1474.21,567 1475.83,567 1477.45,566.99 1479.07,566.99 1480.69,566.98 1482.31,566.98 1483.93,566.97 1485.55,566.97 1487.17,566.96 1488.79,566.96 1490.41,566.95 1492.03,566.95 1493.65,566.95 1495.27,566.94 1496.89,566.94 1498.51,566.93 1500.13,566.93 1501.75,566.93 1503.37,566.92 1504.99,566.92 1506.61,566.92 1508.23,566.91 1509.85,566.91 1511.47,566.91 1513.09,566.9 1514.71,566.9 1516.33,566.9 1517.95,566.9 1519.57,566.89 1521.19,566.89 1522.81,566.89 1524.43,566.88 1526.05,566.88 1527.67,566.88 1529.29,566.88 1530.91,566.88 1532.53,566.87 1534.15,566.87 1535.77,566.87 1537.39,566.87 1539.01,566.86 1540.63,566.86 1542.25,566.86 1543.87,566.86 1545.49,566.86 1547.11,566.85 1548.73,566.85 1550.35,566.85 1551.97,566.85 1553.59,566.85 1555.21,566.85 1556.83,566.84 1558.45,566.84 1560.07,566.84 1561.69,566.84 1563.31,566.84 1564.93,566.84 1566.55,566.83 1568.17,566.83 1569.79,566.83 1571.41,566.83 1573.03,566.83 1574.65,566.83 1576.27,566.83 1577.89,566.82 1579.51,566.82 1581.13,566.82 1582.75,566.82 1584.37,566.82 1585.99,566.82 1587.61,566.82 1589.23,566.82 1590.85,566.81 1592.47,566.81 1594.09,566.81 1595.71,566.81 1597.33,566.81 1598.95,566.81 1600.57,566.81 1602.19,566.81 1603.81,566.81 1605.43,566.81 1607.05,566.8 1608.67,566.8 1610.29,566.8 1611.91,566.8 1613.53,566.8 1615.15,566.8 1616.77,566.8 1618.39,566.8 1620.01,566.8 1621.63,566.8 1623.25,566.8 1624.87,566.79" fill="none" stroke="#ff00ff" stroke-width="2.9" stroke-linejoin="round" marker-mid="url(#m3)"/>
<polyline points="975.29,566.75 976.91,566.75 978.53,566.75 980.15,566.75 981.77,566.75 983.39,566.75 985.01,566.75 986.63,566.75 988.25,566.75 989.87,566.75 991.49,566.75 993.11,566.75 994.73,566.75 996.35,566.75 997.97,566.75 999.59,566.75 1001.21,566.75 1002.83,566.75 1004.45,566.75 1006.07,566.75 1007.69,566.75 1009.31,566.75 1010.93,566.75 1012.55,566.75 1014.17,566.75 1015.79,566.75 1017.41,566.75 1019.03,566.75 1020.65,566.76 1022.27,566.76 1023.89,566.76 1025.51,566.76 1027.13,566.76 1028.75,566.76 1030.37,566.76 1031.99,566.76 1033.61,566.76 1035.23,566.76 1036.85,566.76 1038.47,566.76 1040.09,566.76 1041.71,566.76 1043.33,566.76 1044.95,566.76 1046.57,566.76 1048.19,566.76 1049.81,566.76 1051.43,566.76 1053.05,566.76 1054.67,566.77 1056.29,566.77 1057.91,566.77 1059.53,566.77 1061.15,566.77 1062.77,566.77 1064.39,566.77 1066.01,566.77 1067.63,566.77 1069.25,566.77 1070.87,566.77 1072.49,566.77 1074.11,566.77 1075.73,566.77 1077.35,566.77 1078.97,566.78 1080.59,566.78 1082.21,566.78 1083.83,566.78 1085.45,566.78 1087.07,566.78 1088.69,566.78 1090.31,566.78 1091.93,566.78 1093.55,566.78 1095.17,566.78 1096.79,566.78 1098.41,566.79 1100.03,566.79 1101.65,566.79 1103.27,566.79 1104.89,566.79 1106.51,566.79 1108.13,566.79 1109.75,566.79 1111.37,566.79 1112.99,566.79 1114.61,566.8 1116.23,566.8 1117.85,566.8 1119.47,566.8 1121.09,566.8 1122.71,566.8 1124.33,566.8 1125.95,566.81 1127.57,566.81 1129.19,566.81 1130.81,566.81 1132.43,566.81 1134.05,566.81 1135.67,566.81 1137.29,566.82 1138.91,566.82 1140.53,566.82 1142.15,566.82 1143.77,566.82 1145.39,566.82 1147.01,566.83 1148.63,566.83 1150.25,566.83 1151.87,566.83 1153.49,566.83 1155.11,566.84 1156.73,566.84 1158.35,566.84 1159.97,566.84 1161.59,566.85 1163.21,566.85 1164.83,566.85 1166.45,566.85 1168.07,566.86 1169.69,566.86 1171.31,566.86 1172.93,566.86 1174.55,566.87 1176.17,566.87 1177.79,566.87 1179.41,566.88 1181.03,566.88 1182.65,566.88 1184.27,566.89 1185.89,566.89 1187.51,566.89 1189.13,566.9 1190.75,566.9 1192.37,566.91 1193.99,566.91 1195.61,566.92 1197.23,566.92 1198.85,566.93 1200.47,566.93 1202.09,566.94 1203.71,566.94 1205.33,566.95 1206.95,566.95 1208.57,566.96 1210.19,566.97 1211.81,566.97 1213.43,566.98 1215.05,566.99 1216.67,566.99 1218.29,567 1219.91,567.01 1221.53,567.02 1223.15,567.03 1224.77,567.03 1226.39,567.04 1228.01,567.05 1229.63,567.06 1231.25,567.08 1232.87,567.09 1234.49,567.1 1236.11,567.11 1237.73,567.12 1239.35,567.14 1240.97,567.15 1242.59,567.17 1244.21,567.18 1245.83,567.2 1247.45,567.22 1249.07,567.24 1250.69,567.26 1252.31,567.28 1253.93,567.3 1255.55,567.32 1257.17,567.35 1258.79,567.38 1260.41,567.4 1262.03,567.43 1263.65,567.47 1265.27,567.5 1266.89,567.54 1268.51,567.58 1270.13,567.62 1271.75,567.67 1273.37,567.71 1274.99,567.77 1276.61,567.82 1278.23,567.89 1279.85,567.95 1281.47,568.03 1283.09,568.11 1284.71,568.2 1286.33,568.29 1287.95,568.4 1289.57,568.52 1291.19,568.65 1292.81,568.79 1294.43,568.96 1296.05,569.14 1297.67,569.35 1299.29,569.59 1300.91,569.86 1302.53,570.18 1304.15,570.56 1305.77,571.01 1307.39,571.57 1309.01,572.27 1310.63,573.19 1312.25,574.41 1313.87,576.11 1315.49,578.55 1317.11,582.14 1318.73,587.45 1320.35,595.28 1321.97,606.4 1323.59,621.41 1325.21,640.45 1326.83,663.37 1328.45,690.27 1330.07,722.11 1331.69,761.49 1333.31,814.15 1334.93,890.65 1336.55,935.78 1338.17,856.18 1339.79,794.17 1341.41,752 1343.03,721.1 1344.65,697.26 1346.27,678.23 1347.89,662.72 1349.51,649.85 1351.13,639.06 1352.75,629.93 1354.37,622.14 1355.99,615.45 1357.61,609.68 1359.23,604.68 1360.85,600.32 1362.47,596.51 1364.09,593.17 1365.71,590.23 1367.33,587.64 1368.95,585.35 1370.57,583.32 1372.19,581.53 1373.81,579.94 1375.43,578.53 1377.05,577.28 1378.67,576.17 1380.29,575.19 1381.91,574.32 1383.53,573.55 1385.15,572.86 1386.77,572.26 1388.39,571.72 1390.01,571.25 1391.63,570.83 1393.25,570.46 1394.87,570.13 1396.49,569.84 1398.11,569.58 1399.73,569.35 1401.35,569.15 1402.97,568.97 1404.59,568.81 1406.21,568.66 1407.83,568.53 1409.45,568.42 1411.07,568.31 1412.69,568.22 1414.31,568.13 1415.93,568.05 1417.55,567.98 1419.17,567.92 1420.79,567.86 1422.41,567.81 1424.03,567.76 1425.65,567.71 1427.27,567.67 1428.89,567.63 1430.51,567.59 1432.13,567.56 1433.75,567.52 1435.37,567.49 1436.99,567.47 1438.61,567.44 1440.23,567.42 1441.85,567.39 1443.47,567.37 1445.09,567.35 1446.71,567.33 1448.33,567.31 1449.95,567.29 1451.57,567.28 1453.19,567.26 1454.81,567.24 1456.43,567.23 1458.05,567.22 1459.67,567.2 1461.29,567.19 1462.91,567.18 1464.53,567.17 1466.15,567.15 1467.77,567.14 1469.39,567.13 1471.01,567.12 1472.63,567.11 1474.25,567.1 1475.87,567.09 1477.49,567.09 1479.11,567.08 1480.73,567.07 1482.35,567.06 1483.97,567.05 1485.59,567.05 1487.21,567.04 1488.83,567.03 1490.45,567.03 1492.07,567.02 1493.69,567.01 1495.31,567.01 1496.93,567 1498.55,567 1500.17,566.99 1501.79,566.98 1503.41,566.98 1505.03,566.97 1506.65,566.97 1508.27,566.96 1509.89,566.96 1511.51,566.96 1513.13,566.95 1514.75,566.95 1516.37,566.94 1517.99,566.94 1519.61,566.93 1521.23,566.93 1522.85,566.93 1524.47,566.92 1526.09,566.92 1527.71,566.92 1529.33,566.91 1530.95,566.91 1532.57,566.91 1534.19,566.9 1535.81,566.9 1537.43,566.9 1539.05,566.89 1540.67,566.89 1542.29,566.89 1543.91,566.89 1545.53,566.88 1547.15,566.88 1548.77,566.88 1550.39,566.88 1552.01,566.87 1553.63,566.87 1555.25,566.87 1556.87,566.87 1558.49,566.86 1560.11,566.86 1561.73,566.86 1563.35,566.86 1564.97,566.86 1566.59,566.85 1568.21,566.85 1569.83,566.85 1571.45,566.85 1573.07,566.85 1574.69,566.85 1576.31,566.84 1577.93,566.84 1579.55,566.84 1581.17,566.84 1582.79,566.84 1584.41,566.84 1586.03,566.83 1587.65,566.83 1589.27,566.83 1590.89,566.83 1592.51,566.83 1594.13,566.83 1595.75,566.82 1597.37,566.82 1598.99,566.82 1600.61,566.82 1602.23,566.82 1603.85,566.82 1605.47,566.82 1607.09,566.82 1608.71,566.81 1610.33,566.81 1611.95,566.81 1613.57,566.81 1615.19,566.81 1616.81,566.81 1618.43,566.81 1620.05,566.81 1621.67,566.81 1623.29,566.8 1624.91,566.8" fill="none" stroke="#008000" stroke-width="2.9" stroke-linejoin="round" marker-mid="url(#m4)"/>
<polyline points="974.77,566.75 976.39,566.75 978.01,566.75 979.63,566.75 981.25,566.75 982.87,566.75 984.49,566.75 986.11,566.75 987.73,566.75 989.35,566.75 990.97,566.75 992.59,566.75 994.21,566.75 995.83,566.75 997.45,566.76 999.07,566.76 1000.69,566.76 1002.31,566.76 1003.93,566.76 1005.55,566.76 1007.17,566.76 1008.79,566.76 1010.41,566.76 1012.03,566.76 1013.65,566.76 1015.27,566.76 1016.89,566.76 1018.51,566.76 1020.13,566.76 1021.75,566.76 1023.37,566.76 1024.99,566.76 1026.61,566.76 1028.23,566.76 1029.85,566.76 1031.47,566.76 1033.09,566.76 1034.71,566.76 1036.33,566.77 1037.95,566.77 1039.57,566.77 1041.19,566.77 1042.81,566.77 1044.43,566.77 1046.05,566.77 1047.67,566.77 1049.29,566.77 1050.91,566.77 1052.53,566.77 1054.15,566.77 1055.77,566.77 1057.39,566.77 1059.01,566.77 1060.63,566.77 1062.25,566.77 1063.87,566.77 1065.49,566.78 1067.11,566.78 1068.73,566.78 1070.35,566.78 1071.97,566.78 1073.59,566.78 1075.21,566.78 1076.83,566.78 1078.45,566.78 1080.07,566.78 1081.69,566.78 1083.31,566.78 1084.93,566.78 1086.55,566.79 1088.17,566.79 1089.79,566.79 1091.41,566.79 1093.03,566.79 1094.65,566.79 1096.27,566.79 1097.89,566.79 1099.51,566.79 1101.13,566.79 1102.75,566.79 1104.37,566.8 1105.99,566.8 1107.61,566.8 1109.23,566.8 1110.85,566.8 1112.47,566.8 1114.09,566.8 1115.71,566.8 1117.33,566.8 1118.95,566.8 1120.57,566.81 1122.19,566.81 1123.81,566.81 1125.43,566.81 1127.05,566.81 1128.67,566.81 1130.29,566.81 1131.91,566.82 1133.53,566.82 1135.15,566.82 1136.77,566.82 1138.39,566.82 1140.01,566.82 1141.63,566.82 1143.25,566.83 1144.87,566.83 1146.49,566.83 1148.11,566.83 1149.73,566.83 1151.35,566.83 1152.97,566.84 1154.59,566.84 1156.21,566.84 1157.83,566.84 1159.45,566.84 1161.07,566.85 1162.69,566.85 1164.31,566.85 1165.93,566.85 1167.55,566.86 1169.17,566.86 1170.79,566.86 1172.41,566.86 1174.03,566.87 1175.65,566.87 1177.27,566.87 1178.89,566.87 1180.51,566.88 1182.13,566.88 1183.75,566.88 1185.37,566.89 1186.99,566.89 1188.61,566.89 1190.23,566.9 1191.85,566.9 1193.47,566.9 1195.09,566.91 1196.71,566.91 1198.33,566.91 1199.95,566.92 1201.57,566.92 1203.19,566.93 1204.81,566.93 1206.43,566.93 1208.05,566.94 1209.67,566.94 1211.29,566.95 1212.91,566.95 1214.53,566.96 1216.15,566.96 1217.77,566.97 1219.39,566.98 1221.01,566.98 1222.63,566.99 1224.25,566.99 1225.87,567 1227.49,567.01 1229.11,567.02 1230.73,567.02 1232.35,567.03 1233.97,567.04 1235.59,567.05 1237.21,567.06 1238.83,567.07 1240.45,567.07 1242.07,567.08 1243.69,567.09 1245.31,567.11 1246.93,567.12 1248.55,567.13 1250.17,567.14 1251.79,567.15 1253.41,567.17 1255.03,567.18 1256.65,567.19 1258.27,567.21 1259.89,567.22 1261.51,567.24 1263.13,567.26 1264.75,567.28 1266.37,567.3 1267.99,567.32 1269.61,567.34 1271.23,567.36 1272.85,567.38 1274.47,567.41 1276.09,567.43 1277.71,567.46 1279.33,567.49 1280.95,567.52 1282.57,567.56 1284.19,567.59 1285.81,567.63 1287.43,567.67 1289.05,567.71 1290.67,567.76 1292.29,567.81 1293.91,567.86 1295.53,567.91 1297.15,567.98 1298.77,568.04 1300.39,568.11 1302.01,568.19 1303.63,568.27 1305.25,568.36 1306.87,568.46 1308.49,568.56 1310.11,568.68 1311.73,568.81 1313.35,568.95 1314.97,569.1 1316.59,569.27 1318.21,569.46 1319.83,569.68 1321.45,569.92 1323.07,570.19 1324.69,570.5 1326.31,570.85 1327.93,571.26 1329.55,571.74 1331.17,572.31 1332.79,573 1334.41,573.86 1336.03,574.94 1337.65,576.34 1339.27,578.24 1340.89,580.86 1342.51,584.57 1344.13,589.92 1345.75,597.59 1347.37,608.35 1348.99,622.8 1350.61,641.2 1352.23,663.55 1353.85,689.97 1355.47,721.34 1357.09,760.01 1358.71,810.84 1360.33,880.16 1361.95,915.83 1363.57,850 1365.19,791.85 1366.81,750.84 1368.43,720.41 1370.05,696.81 1371.67,677.92 1373.29,662.49 1374.91,649.68 1376.53,638.92 1378.15,629.82 1379.77,622.05 1381.39,615.38 1383.01,609.62 1384.63,604.62 1386.25,600.27 1387.87,596.47 1389.49,593.13 1391.11,590.2 1392.73,587.61 1394.35,585.33 1395.97,583.3 1397.59,581.51 1399.21,579.93 1400.83,578.52 1402.45,577.27 1404.07,576.16 1405.69,575.18 1407.31,574.31 1408.93,573.54 1410.55,572.86 1412.17,572.25 1413.79,571.72 1415.41,571.24 1417.03,570.83 1418.65,570.46 1420.27,570.13 1421.89,569.84 1423.51,569.58 1425.13,569.35 1426.75,569.15 1428.37,568.97 1429.99,568.8 1431.61,568.66 1433.23,568.53 1434.85,568.41 1436.47,568.31 1438.09,568.22 1439.71,568.13 1441.33,568.05 1442.95,567.98 1444.57,567.92 1446.19,567.86 1447.81,567.8 1449.43,567.75 1451.05,567.71 1452.67,567.67 1454.29,567.63 1455.91,567.59 1457.53,567.56 1459.15,567.52 1460.77,567.49 1462.39,567.47 1464.01,567.44 1465.63,567.41 1467.25,567.39 1468.87,567.37 1470.49,567.35 1472.11,567.33 1473.73,567.31 1475.35,567.29 1476.97,567.28 1478.59,567.26 1480.21,567.24 1481.83,567.23 1483.45,567.22 1485.07,567.2 1486.69,567.19 1488.31,567.18 1489.93,567.16 1491.55,567.15 1493.17,567.14 1494.79,567.13 1496.41,567.12 1498.03,567.11 1499.65,567.1 1501.27,567.09 1502.89,567.08 1504.51,567.08 1506.13,567.07 1507.75,567.06 1509.37,567.05 1510.99,567.05 1512.61,567.04 1514.23,567.03 1515.85,567.03 1517.47,567.02 1519.09,567.01 1520.71,567.01 1522.33,567 1523.95,566.99 1525.57,566.99 1527.19,566.98 1528.81,566.98 1530.43,566.97 1532.05,566.97 1533.67,566.96 1535.29,566.96 1536.91,566.96 1538.53,566.95 1540.15,566.95 1541.77,566.94 1543.39,566.94 1545.01,566.93 1546.63,566.93 1548.25,566.93 1549.87,566.92 1551.49,566.92 1553.11,566.92 1554.73,566.91 1556.35,566.91 1557.97,566.91 1559.59,566.9 1561.21,566.9 1562.83,566.9 1564.45,566.89 1566.07,566.89 1567.69,566.89 1569.31,566.89 1570.93,566.88 1572.55,566.88 1574.17,566.88 1575.79,566.88 1577.41,566.87 1579.03,566.87 1580.65,566.87 1582.27,566.87 1583.89,566.86 1585.51,566.86 1587.13,566.86 1588.75,566.86 1590.37,566.86 1591.99,566.85 1593.61,566.85 1595.23,566.85 1596.85,566.85 1598.47,566.85 1600.09,566.84 1601.71,566.84 1603.33,566.84 1604.95,566.84 1606.57,566.84 1608.19,566.84 1609.81,566.83 1611.43,566.83 1613.05,566.83 1614.67,566.83 1616.29,566.83 1617.91,566.83 1619.53,566.83 1621.15,566.82 1622.77,566.82 1624.39,566.82" fill="none" stroke="#000080" stroke-width="2.9" stroke-linejoin="round" marker-mid="url(#m5)"/>
<polyline points="974.91,566.76 976.53,566.76 978.15,566.76 979.77,566.76 981.39,566.76 983.01,566.76 984.63,566.76 986.25,566.76 987.87,566.76 989.49,566.76 991.11,566.76 992.73,566.76 994.35,566.76 995.97,566.76 997.59,566.76 999.21,566.76 1000.83,566.76 1002.45,566.76 1004.07,566.76 1005.69,566.76 1007.31,566.76 1008.93,566.76 1010.55,566.76 1012.17,566.76 1013.79,566.76 1015.41,566.77 1017.03,566.77 1018.65,566.77 1020.27,566.77 1021.89,566.77 1023.51,566.77 1025.13,566.77 1026.75,566.77 1028.37,566.77 1029.99,566.77 1031.61,566.77 1033.23,566.77 1034.85,566.77 1036.47,566.77 1038.09,566.77 1039.71,566.77 1041.33,566.77 1042.95,566.77 1044.57,566.77 1046.19,566.77 1047.81,566.78 1049.43,566.78 1051.05,566.78 1052.67,566.78 1054.29,566.78 1055.91,566.78 1057.53,566.78 1059.15,566.78 1060.77,566.78 1062.39,566.78 1064.01,566.78 1065.63,566.78 1067.25,566.78 1068.87,566.78 1070.49,566.78 1072.11,566.79 1073.73,566.79 1075.35,566.79 1076.97,566.79 1078.59,566.79 1080.21,566.79 1081.83,566.79 1083.45,566.79 1085.07,566.79 1086.69,566.79 1088.31,566.79 1089.93,566.79 1091.55,566.79 1093.17,566.8 1094.79,566.8 1096.41,566.8 1098.03,566.8 1099.65,566.8 1101.27,566.8 1102.89,566.8 1104.51,566.8 1106.13,566.8 1107.75,566.8 1109.37,566.81 1110.99,566.81 1112.61,566.81 1114.23,566.81 1115.85,566.81 1117.47,566.81 1119.09,566.81 1120.71,566.81 1122.33,566.81 1123.95,566.82 1125.57,566.82 1127.19,566.82 1128.81,566.82 1130.43,566.82 1132.05,566.82 1133.67,566.82 1135.29,566.83 1136.91,566.83 1138.53,566.83 1140.15,566.83 1141.77,566.83 1143.39,566.83 1145.01,566.83 1146.63,566.84 1148.25,566.84 1149.87,566.84 1151.49,566.84 1153.11,566.84 1154.73,566.84 1156.35,566.85 1157.97,566.85 1159.59,566.85 1161.21,566.85 1162.83,566.85 1164.45,566.86 1166.07,566.86 1167.69,566.86 1169.31,566.86 1170.93,566.87 1172.55,566.87 1174.17,566.87 1175.79,566.87 1177.41,566.88 1179.03,566.88 1180.65,566.88 1182.27,566.88 1183.89,566.89 1185.51,566.89 1187.13,566.89 1188.75,566.89 1190.37,566.9 1191.99,566.9 1193.61,566.9 1195.23,566.91 1196.85,566.91 1198.47,566.91 1200.09,566.92 1201.71,566.92 1203.33,566.92 1204.95,566.93 1206.57,566.93 1208.19,566.94 1209.81,566.94 1211.43,566.94 1213.05,566.95 1214.67,566.95 1216.29,566.96 1217.91,566.96 1219.53,566.97 1221.15,566.97 1222.77,566.98 1224.39,566.98 1226.01,566.99 1227.63,566.99 1229.25,567 1230.87,567.01 1232.49,567.01 1234.11,567.02 1235.73,567.03 1237.35,567.03 1238.97,567.04 1240.59,567.05 1242.21,567.06 1243.83,567.06 1245.45,567.07 1247.07,567.08 1248.69,567.09 1250.31,567.1 1251.93,567.11 1253.55,567.12 1255.17,567.13 1256.79,567.14 1258.41,567.15 1260.03,567.16 1261.65,567.17 1263.27,567.19 1264.89,567.2 1266.51,567.21 1268.13,567.23 1269.75,567.24 1271.37,567.26 1272.99,567.27 1274.61,567.29 1276.23,567.31 1277.85,567.33 1279.47,567.34 1281.09,567.36 1282.71,567.39 1284.33,567.41 1285.95,567.43 1287.57,567.46 1289.19,567.48 1290.81,567.51 1292.43,567.54 1294.05,567.57 1295.67,567.6 1297.29,567.63 1298.91,567.67 1300.53,567.7 1302.15,567.74 1303.77,567.79 1305.39,567.83 1307.01,567.88 1308.63,567.93 1310.25,567.98 1311.87,568.04 1313.49,568.1 1315.11,568.17 1316.73,568.24 1318.35,568.32 1319.97,568.4 1321.59,568.49 1323.21,568.59 1324.83,568.69 1326.45,568.81 1328.07,568.93 1329.69,569.06 1331.31,569.21 1332.93,569.37 1334.55,569.55 1336.17,569.75 1337.79,569.96 1339.41,570.2 1341.03,570.47 1342.65,570.78 1344.27,571.12 1345.89,571.5 1347.51,571.95 1349.13,572.46 1350.75,573.06 1352.37,573.76 1353.99,574.61 1355.61,575.65 1357.23,576.96 1358.85,578.65 1360.47,580.88 1362.09,583.92 1363.71,588.14 1365.33,594.05 1366.95,602.28 1368.57,613.46 1370.19,628.03 1371.81,646.14 1373.43,667.81 1375.05,693.28 1376.67,723.54 1378.29,760.83 1379.91,809.39 1381.53,872.64 1383.15,902.28 1384.77,844.98 1386.39,789.87 1388.01,749.83 1389.63,719.81 1391.25,696.41 1392.87,677.64 1394.49,662.28 1396.11,649.52 1397.73,638.8 1399.35,629.72 1400.97,621.97 1402.59,615.31 1404.21,609.56 1405.83,604.58 1407.45,600.23 1409.07,596.43 1410.69,593.1 1412.31,590.17 1413.93,587.59 1415.55,585.31 1417.17,583.29 1418.79,581.5 1420.41,579.91 1422.03,578.51 1423.65,577.26 1425.27,576.15 1426.89,575.17 1428.51,574.3 1430.13,573.53 1431.75,572.85 1433.37,572.25 1434.99,571.71 1436.61,571.24 1438.23,570.82 1439.85,570.45 1441.47,570.12 1443.09,569.83 1444.71,569.58 1446.33,569.35 1447.95,569.15 1449.57,568.96 1451.19,568.8 1452.81,568.66 1454.43,568.53 1456.05,568.41 1457.67,568.31 1459.29,568.21 1460.91,568.13 1462.53,568.05 1464.15,567.98 1465.77,567.92 1467.39,567.86 1469.01,567.8 1470.63,567.75 1472.25,567.71 1473.87,567.66 1475.49,567.63 1477.11,567.59 1478.73,567.55 1480.35,567.52 1481.97,567.49 1483.59,567.47 1485.21,567.44 1486.83,567.41 1488.45,567.39 1490.07,567.37 1491.69,567.35 1493.31,567.33 1494.93,567.31 1496.55,567.29 1498.17,567.27 1499.79,567.26 1501.41,567.24 1503.03,567.23 1504.65,567.21 1506.27,567.2 1507.89,567.19 1509.51,567.18 1511.13,567.16 1512.75,567.15 1514.37,567.14 1515.99,567.13 1517.61,567.12 1519.23,567.11 1520.85,567.1 1522.47,567.09 1524.09,567.08 1525.71,567.08 1527.33,567.07 1528.95,567.06 1530.57,567.05 1532.19,567.05 1533.81,567.04 1535.43,567.03 1537.05,567.02 1538.67,567.02 1540.29,567.01 1541.91,567.01 1543.53,567 1545.15,566.99 1546.77,566.99 1548.39,566.98 1550.01,566.98 1551.63,566.97 1553.25,566.97 1554.87,566.96 1556.49,566.96 1558.11,566.95 1559.73,566.95 1561.35,566.95 1562.97,566.94 1564.59,566.94 1566.21,566.93 1567.83,566.93 1569.45,566.93 1571.07,566.92 1572.69,566.92 1574.31,566.92 1575.93,566.91 1577.55,566.91 1579.17,566.91 1580.79,566.9 1582.41,566.9 1584.03,566.9 1585.65,566.89 1587.27,566.89 1588.89,566.89 1590.51,566.89 1592.13,566.88 1593.75,566.88 1595.37,566.88 1596.99,566.88 1598.61,566.87 1600.23,566.87 1601.85,566.87 1603.47,566.87 1605.09,566.86 1606.71,566.86 1608.33,566.86 1609.95,566.86 1611.57,566.86 1613.19,566.85 1614.81,566.85 1616.43,566.85 1618.05,566.85 1619.67,566.85 1621.29,566.84 1622.91,566.84 1624.53,566.84" fill="none" stroke="#8000ff" stroke-width="2.9" stroke-linejoin="round" marker-mid="url(#m6)"/>
<polyline points="974.55,566.77 976.17,566.77 977.79,566.77 979.41,566.77 981.03,566.77 982.65,566.77 984.27,566.77 985.89,566.77 987.51,566.77 989.13,566.77 990.75,566.77 992.37,566.77 993.99,566.78 995.61,566.78 997.23,566.78 998.85,566.78 1000.47,566.78 1002.09,566.78 1003.71,566.78 1005.33,566.78 1006.95,566.78 1008.57,566.78 1010.19,566.78 1011.81,566.78 1013.43,566.78 1015.05,566.78 1016.67,566.78 1018.29,566.78 1019.91,566.78 1021.53,566.78 1023.15,566.79 1024.77,566.79 1026.39,566.79 1028.01,566.79 1029.63,566.79 1031.25,566.79 1032.87,566.79 1034.49,566.79 1036.11,566.79 1037.73,566.79 1039.35,566.79 1040.97,566.79 1042.59,566.79 1044.21,566.79 1045.83,566.79 1047.45,566.8 1049.07,566.8 1050.69,566.8 1052.31,566.8 1053.93,566.8 1055.55,566.8 1057.17,566.8 1058.79,566.8 1060.41,566.8 1062.03,566.8 1063.65,566.8 1065.27,566.8 1066.89,566.8 1068.51,566.81 1070.13,566.81 1071.75,566.81 1073.37,566.81 1074.99,566.81 1076.61,566.81 1078.23,566.81 1079.85,566.81 1081.47,566.81 1083.09,566.81 1084.71,566.82 1086.33,566.82 1087.95,566.82 1089.57,566.82 1091.19,566.82 1092.81,566.82 1094.43,566.82 1096.05,566.82 1097.67,566.82 1099.29,566.83 1100.91,566.83 1102.53,566.83 1104.15,566.83 1105.77,566.83 1107.39,566.83 1109.01,566.83 1110.63,566.83 1112.25,566.84 1113.87,566.84 1115.49,566.84 1117.11,566.84 1118.73,566.84 1120.35,566.84 1121.97,566.84 1123.59,566.85 1125.21,566.85 1126.83,566.85 1128.45,566.85 1130.07,566.85 1131.69,566.85 1133.31,566.86 1134.93,566.86 1136.55,566.86 1138.17,566.86 1139.79,566.86 1141.41,566.87 1143.03,566.87 1144.65,566.87 1146.27,566.87 1147.89,566.87 1149.51,566.88 1151.13,566.88 1152.75,566.88 1154.37,566.88 1155.99,566.88 1157.61,566.89 1159.23,566.89 1160.85,566.89 1162.47,566.89 1164.09,566.9 1165.71,566.9 1167.33,566.9 1168.95,566.9 1170.57,566.91 1172.19,566.91 1173.81,566.91 1175.43,566.92 1177.05,566.92 1178.67,566.92 1180.29,566.92 1181.91,566.93 1183.53,566.93 1185.15,566.93 1186.77,566.94 1188.39,566.94 1190.01,566.94 1191.63,566.95 1193.25,566.95 1194.87,566.96 1196.49,566.96 1198.11,566.96 1199.73,566.97 1201.35,566.97 1202.97,566.98 1204.59,566.98 1206.21,566.99 1207.83,566.99 1209.45,566.99 1211.07,567 1212.69,567 1214.31,567.01 1215.93,567.02 1217.55,567.02 1219.17,567.03 1220.79,567.03 1222.41,567.04 1224.03,567.04 1225.65,567.05 1227.27,567.06 1228.89,567.06 1230.51,567.07 1232.13,567.08 1233.75,567.08 1235.37,567.09 1236.99,567.1 1238.61,567.11 1240.23,567.12 1241.85,567.12 1243.47,567.13 1245.09,567.14 1246.71,567.15 1248.33,567.16 1249.95,567.17 1251.57,567.18 1253.19,567.19 1254.81,567.2 1256.43,567.21 1258.05,567.23 1259.67,567.24 1261.29,567.25 1262.91,567.26 1264.53,567.28 1266.15,567.29 1267.77,567.31 1269.39,567.32 1271.01,567.34 1272.63,567.35 1274.25,567.37 1275.87,567.39 1277.49,567.41 1279.11,567.43 1280.73,567.45 1282.35,567.47 1283.97,567.49 1285.59,567.51 1287.21,567.54 1288.83,567.56 1290.45,567.59 1292.07,567.62 1293.69,567.64 1295.31,567.67 1296.93,567.71 1298.55,567.74 1300.17,567.77 1301.79,567.81 1303.41,567.85 1305.03,567.89 1306.65,567.93 1308.27,567.98 1309.89,568.03 1311.51,568.08 1313.13,568.13 1314.75,568.19 1316.37,568.25 1317.99,568.31 1319.61,568.38 1321.23,568.45 1322.85,568.53 1324.47,568.61 1326.09,568.7 1327.71,568.79 1329.33,568.89 1330.95,569 1332.57,569.12 1334.19,569.25 1335.81,569.38 1337.43,569.53 1339.05,569.69 1340.67,569.87 1342.29,570.06 1343.91,570.26 1345.53,570.49 1347.15,570.74 1348.77,571.02 1350.39,571.32 1352.01,571.66 1353.63,572.04 1355.25,572.46 1356.87,572.93 1358.49,573.47 1360.11,574.08 1361.73,574.78 1363.35,575.6 1364.97,576.56 1366.59,577.71 1368.21,579.1 1369.83,580.82 1371.45,583 1373.07,585.82 1374.69,589.57 1376.31,594.61 1377.93,601.43 1379.55,610.55 1381.17,622.43 1382.79,637.35 1384.41,655.36 1386.03,676.51 1387.65,701.19 1389.27,730.44 1390.89,766.45 1392.51,812.82 1394.13,870.61 1395.75,895.66 1397.37,845.15 1398.99,792.84 1400.61,753.68 1402.23,723.96 1403.85,700.61 1405.47,681.78 1407.09,666.29 1408.71,653.37 1410.33,642.47 1411.95,633.19 1413.57,625.25 1415.19,618.4 1416.81,612.46 1418.43,607.3 1420.05,602.78 1421.67,598.82 1423.29,595.33 1424.91,592.25 1426.53,589.53 1428.15,587.12 1429.77,584.97 1431.39,583.07 1433.01,581.37 1434.63,579.86 1436.25,578.51 1437.87,577.31 1439.49,576.24 1441.11,575.29 1442.73,574.44 1444.35,573.68 1445.97,573.01 1447.59,572.41 1449.21,571.88 1450.83,571.4 1452.45,570.98 1454.07,570.61 1455.69,570.28 1457.31,569.98 1458.93,569.72 1460.55,569.48 1462.17,569.27 1463.79,569.09 1465.41,568.92 1467.03,568.77 1468.65,568.63 1470.27,568.51 1471.89,568.4 1473.51,568.3 1475.13,568.21 1476.75,568.13 1478.37,568.05 1479.99,567.99 1481.61,567.92 1483.23,567.87 1484.85,567.81 1486.47,567.76 1488.09,567.72 1489.71,567.68 1491.33,567.64 1492.95,567.6 1494.57,567.57 1496.19,567.54 1497.81,567.51 1499.43,567.48 1501.05,567.45 1502.67,567.43 1504.29,567.41 1505.91,567.38 1507.53,567.36 1509.15,567.34 1510.77,567.33 1512.39,567.31 1514.01,567.29 1515.63,567.27 1517.25,567.26 1518.87,567.24 1520.49,567.23 1522.11,567.22 1523.73,567.2 1525.35,567.19 1526.97,567.18 1528.59,567.17 1530.21,567.16 1531.83,567.15 1533.45,567.14 1535.07,567.13 1536.69,567.12 1538.31,567.11 1539.93,567.1 1541.55,567.09 1543.17,567.08 1544.79,567.07 1546.41,567.07 1548.03,567.06 1549.65,567.05 1551.27,567.04 1552.89,567.04 1554.51,567.03 1556.13,567.02 1557.75,567.02 1559.37,567.01 1560.99,567.01 1562.61,567 1564.23,567 1565.85,566.99 1567.47,566.99 1569.09,566.98 1570.71,566.98 1572.33,566.97 1573.95,566.97 1575.57,566.96 1577.19,566.96 1578.81,566.95 1580.43,566.95 1582.05,566.94 1583.67,566.94 1585.29,566.94 1586.91,566.93 1588.53,566.93 1590.15,566.93 1591.77,566.92 1593.39,566.92 1595.01,566.92 1596.63,566.91 1598.25,566.91 1599.87,566.91 1601.49,566.9 1603.11,566.9 1604.73,566.9 1606.35,566.89 1607.97,566.89 1609.59,566.89 1611.21,566.89 1612.83,566.88 1614.45,566.88 1616.07,566.88 1617.69,566.88 1619.31,566.87 1620.93,566.87 1622.55,566.87 1624.17,566.87" fill="none" stroke="#800080" stroke-width="2.9" stroke-linejoin="round" marker-mid="url(#m7)"/>
<polyline points="974.69,566.78 976.31,566.78 977.93,566.78 979.55,566.78 981.17,566.78 982.79,566.78 984.41,566.78 986.03,566.78 987.65,566.78 989.27,566.78 990.89,566.78 992.51,566.78 994.13,566.78 995.75,566.79 997.37,566.79 998.99,566.79 1000.61,566.79 1002.23,566.79 1003.85,566.79 1005.47,566.79 1007.09,566.79 1008.71,566.79 1010.33,566.79 1011.95,566.79 1013.57,566.79 1015.19,566.79 1016.81,566.79 1018.43,566.79 1020.05,566.79 1021.67,566.79 1023.29,566.8 1024.91,566.8 1026.53,566.8 1028.15,566.8 1029.77,566.8 1031.39,566.8 1033.01,566.8 1034.63,566.8 1036.25,566.8 1037.87,566.8 1039.49,566.8 1041.11,566.8 1042.73,566.8 1044.35,566.81 1045.97,566.81 1047.59,566.81 1049.21,566.81 1050.83,566.81 1052.45,566.81 1054.07,566.81 1055.69,566.81 1057.31,566.81 1058.93,566.81 1060.55,566.81 1062.17,566.81 1063.79,566.82 1065.41,566.82 1067.03,566.82 1068.65,566.82 1070.27,566.82 1071.89,566.82 1073.51,566.82 1075.13,566.82 1076.75,566.82 1078.37,566.82 1079.99,566.83 1081.61,566.83 1083.23,566.83 1084.85,566.83 1086.47,566.83 1088.09,566.83 1089.71,566.83 1091.33,566.83 1092.95,566.84 1094.57,566.84 1096.19,566.84 1097.81,566.84 1099.43,566.84 1101.05,566.84 1102.67,566.84 1104.29,566.84 1105.91,566.85 1107.53,566.85 1109.15,566.85 1110.77,566.85 1112.39,566.85 1114.01,566.85 1115.63,566.85 1117.25,566.86 1118.87,566.86 1120.49,566.86 1122.11,566.86 1123.73,566.86 1125.35,566.86 1126.97,566.87 1128.59,566.87 1130.21,566.87 1131.83,566.87 1133.45,566.87 1135.07,566.87 1136.69,566.88 1138.31,566.88 1139.93,566.88 1141.55,566.88 1143.17,566.88 1144.79,566.89 1146.41,566.89 1148.03,566.89 1149.65,566.89 1151.27,566.9 1152.89,566.9 1154.51,566.9 1156.13,566.9 1157.75,566.9 1159.37,566.91 1160.99,566.91 1162.61,566.91 1164.23,566.92 1165.85,566.92 1167.47,566.92 1169.09,566.92 1170.71,566.93 1172.33,566.93 1173.95,566.93 1175.57,566.93 1177.19,566.94 1178.81,566.94 1180.43,566.94 1182.05,566.95 1183.67,566.95 1185.29,566.95 1186.91,566.96 1188.53,566.96 1190.15,566.97 1191.77,566.97 1193.39,566.97 1195.01,566.98 1196.63,566.98 1198.25,566.98 1199.87,566.99 1201.49,566.99 1203.11,567 1204.73,567 1206.35,567.01 1207.97,567.01 1209.59,567.02 1211.21,567.02 1212.83,567.03 1214.45,567.03 1216.07,567.04 1217.69,567.04 1219.31,567.05 1220.93,567.05 1222.55,567.06 1224.17,567.07 1225.79,567.07 1227.41,567.08 1229.03,567.08 1230.65,567.09 1232.27,567.1 1233.89,567.11 1235.51,567.11 1237.13,567.12 1238.75,567.13 1240.37,567.14 1241.99,567.14 1243.61,567.15 1245.23,567.16 1246.85,567.17 1248.47,567.18 1250.09,567.19 1251.71,567.2 1253.33,567.21 1254.95,567.22 1256.57,567.23 1258.19,567.24 1259.81,567.25 1261.43,567.26 1263.05,567.28 1264.67,567.29 1266.29,567.3 1267.91,567.32 1269.53,567.33 1271.15,567.35 1272.77,567.36 1274.39,567.38 1276.01,567.39 1277.63,567.41 1279.25,567.43 1280.87,567.44 1282.49,567.46 1284.11,567.48 1285.73,567.5 1287.35,567.52 1288.97,567.55 1290.59,567.57 1292.21,567.59 1293.83,567.62 1295.45,567.64 1297.07,567.67 1298.69,567.7 1300.31,567.73 1301.93,567.76 1303.55,567.79 1305.17,567.82 1306.79,567.86 1308.41,567.9 1310.03,567.93 1311.65,567.98 1313.27,568.02 1314.89,568.06 1316.51,568.11 1318.13,568.16 1319.75,568.21 1321.37,568.27 1322.99,568.33 1324.61,568.39 1326.23,568.46 1327.85,568.52 1329.47,568.6 1331.09,568.68 1332.71,568.76 1334.33,568.85 1335.95,568.94 1337.57,569.04 1339.19,569.15 1340.81,569.27 1342.43,569.39 1344.05,569.53 1345.67,569.67 1347.29,569.82 1348.91,569.99 1350.53,570.17 1352.15,570.37 1353.77,570.58 1355.39,570.81 1357.01,571.06 1358.63,571.34 1360.25,571.64 1361.87,571.98 1363.49,572.35 1365.11,572.76 1366.73,573.21 1368.35,573.72 1369.97,574.29 1371.59,574.94 1373.21,575.67 1374.83,576.52 1376.45,577.49 1378.07,578.62 1379.69,579.97 1381.31,581.59 1382.93,583.58 1384.55,586.06 1386.17,589.23 1387.79,593.35 1389.41,598.77 1391.03,605.93 1392.65,615.28 1394.27,627.16 1395.89,641.8 1397.51,659.24 1399.13,679.62 1400.75,703.41 1402.37,731.69 1403.99,766.51 1405.61,810.93 1407.23,864.25 1408.85,886.01 1410.47,840.7 1412.09,790.91 1413.71,752.67 1415.33,723.35 1416.95,700.21 1418.57,681.49 1420.19,666.08 1421.81,653.2 1423.43,642.34 1425.05,633.09 1426.67,625.16 1428.29,618.33 1429.91,612.4 1431.53,607.25 1433.15,602.74 1434.77,598.78 1436.39,595.3 1438.01,592.23 1439.63,589.51 1441.25,587.1 1442.87,584.96 1444.49,583.05 1446.11,581.36 1447.73,579.85 1449.35,578.5 1450.97,577.3 1452.59,576.23 1454.21,575.28 1455.83,574.43 1457.45,573.67 1459.07,573 1460.69,572.4 1462.31,571.87 1463.93,571.4 1465.55,570.98 1467.17,570.61 1468.79,570.27 1470.41,569.98 1472.03,569.71 1473.65,569.48 1475.27,569.27 1476.89,569.08 1478.51,568.92 1480.13,568.77 1481.75,568.63 1483.37,568.51 1484.99,568.4 1486.61,568.3 1488.23,568.21 1489.85,568.13 1491.47,568.05 1493.09,567.98 1494.71,567.92 1496.33,567.87 1497.95,567.81 1499.57,567.76 1501.19,567.72 1502.81,567.68 1504.43,567.64 1506.05,567.6 1507.67,567.57 1509.29,567.54 1510.91,567.51 1512.53,567.48 1514.15,567.45 1515.77,567.43 1517.39,567.41 1519.01,567.38 1520.63,567.36 1522.25,567.34 1523.87,567.32 1525.49,567.31 1527.11,567.29 1528.73,567.27 1530.35,567.26 1531.97,567.24 1533.59,567.23 1535.21,567.22 1536.83,567.2 1538.45,567.19 1540.07,567.18 1541.69,567.17 1543.31,567.16 1544.93,567.15 1546.55,567.14 1548.17,567.13 1549.79,567.12 1551.41,567.11 1553.03,567.1 1554.65,567.09 1556.27,567.08 1557.89,567.07 1559.51,567.07 1561.13,567.06 1562.75,567.05 1564.37,567.04 1565.99,567.04 1567.61,567.03 1569.23,567.02 1570.85,567.02 1572.47,567.01 1574.09,567.01 1575.71,567 1577.33,567 1578.95,566.99 1580.57,566.98 1582.19,566.98 1583.81,566.97 1585.43,566.97 1587.05,566.97 1588.67,566.96 1590.29,566.96 1591.91,566.95 1593.53,566.95 1595.15,566.94 1596.77,566.94 1598.39,566.94 1600.01,566.93 1601.63,566.93 1603.25,566.93 1604.87,566.92 1606.49,566.92 1608.11,566.92 1609.73,566.91 1611.35,566.91 1612.97,566.91 1614.59,566.9 1616.21,566.9 1617.83,566.9 1619.45,566.89 1621.07,566.89 1622.69,566.89 1624.31,566.89" fill="none" stroke="#800000" stroke-width="2.9" stroke-linejoin="round" marker-mid="url(#m8)"/>
<polyline points="975.09,566.8 976.71,566.8 978.33,566.8 979.95,566.8 981.57,566.8 983.19,566.8 984.81,566.8 986.43,566.8 988.05,566.8 989.67,566.8 991.29,566.81 992.91,566.81 994.53,566.81 996.15,566.81 997.77,566.81 999.39,566.81 1001.01,566.81 1002.63,566.81 1004.25,566.81 1005.87,566.81 1007.49,566.81 1009.11,566.81 1010.73,566.81 1012.35,566.81 1013.97,566.82 1015.59,566.82 1017.21,566.82 1018.83,566.82 1020.45,566.82 1022.07,566.82 1023.69,566.82 1025.31,566.82 1026.93,566.82 1028.55,566.82 1030.17,566.82 1031.79,566.83 1033.41,566.83 1035.03,566.83 1036.65,566.83 1038.27,566.83 1039.89,566.83 1041.51,566.83 1043.13,566.83 1044.75,566.83 1046.37,566.83 1047.99,566.84 1049.61,566.84 1051.23,566.84 1052.85,566.84 1054.47,566.84 1056.09,566.84 1057.71,566.84 1059.33,566.84 1060.95,566.84 1062.57,566.85 1064.19,566.85 1065.81,566.85 1067.43,566.85 1069.05,566.85 1070.67,566.85 1072.29,566.85 1073.91,566.85 1075.53,566.86 1077.15,566.86 1078.77,566.86 1080.39,566.86 1082.01,566.86 1083.63,566.86 1085.25,566.86 1086.87,566.87 1088.49,566.87 1090.11,566.87 1091.73,566.87 1093.35,566.87 1094.97,566.87 1096.59,566.87 1098.21,566.88 1099.83,566.88 1101.45,566.88 1103.07,566.88 1104.69,566.88 1106.31,566.88 1107.93,566.89 1109.55,566.89 1111.17,566.89 1112.79,566.89 1114.41,566.89 1116.03,566.9 1117.65,566.9 1119.27,566.9 1120.89,566.9 1122.51,566.9 1124.13,566.91 1125.75,566.91 1127.37,566.91 1128.99,566.91 1130.61,566.91 1132.23,566.92 1133.85,566.92 1135.47,566.92 1137.09,566.92 1138.71,566.93 1140.33,566.93 1141.95,566.93 1143.57,566.93 1145.19,566.94 1146.81,566.94 1148.43,566.94 1150.05,566.94 1151.67,566.95 1153.29,566.95 1154.91,566.95 1156.53,566.96 1158.15,566.96 1159.77,566.96 1161.39,566.96 1163.01,566.97 1164.63,566.97 1166.25,566.97 1167.87,566.98 1169.49,566.98 1171.11,566.99 1172.73,566.99 1174.35,566.99 1175.97,567 1177.59,567 1179.21,567 1180.83,567.01 1182.45,567.01 1184.07,567.02 1185.69,567.02 1187.31,567.02 1188.93,567.03 1190.55,567.03 1192.17,567.04 1193.79,567.04 1195.41,567.05 1197.03,567.05 1198.65,567.06 1200.27,567.06 1201.89,567.07 1203.51,567.07 1205.13,567.08 1206.75,567.08 1208.37,567.09 1209.99,567.1 1211.61,567.1 1213.23,567.11 1214.85,567.11 1216.47,567.12 1218.09,567.13 1219.71,567.13 1221.33,567.14 1222.95,567.15 1224.57,567.16 1226.19,567.16 1227.81,567.17 1229.43,567.18 1231.05,567.19 1232.67,567.19 1234.29,567.2 1235.91,567.21 1237.53,567.22 1239.15,567.23 1240.77,567.24 1242.39,567.25 1244.01,567.26 1245.63,567.27 1247.25,567.28 1248.87,567.29 1250.49,567.3 1252.11,567.31 1253.73,567.33 1255.35,567.34 1256.97,567.35 1258.59,567.36 1260.21,567.38 1261.83,567.39 1263.45,567.4 1265.07,567.42 1266.69,567.43 1268.31,567.45 1269.93,567.47 1271.55,567.48 1273.17,567.5 1274.79,567.52 1276.41,567.54 1278.03,567.56 1279.65,567.58 1281.27,567.6 1282.89,567.62 1284.51,567.64 1286.13,567.66 1287.75,567.69 1289.37,567.71 1290.99,567.74 1292.61,567.76 1294.23,567.79 1295.85,567.82 1297.47,567.85 1299.09,567.88 1300.71,567.91 1302.33,567.95 1303.95,567.98 1305.57,568.02 1307.19,568.06 1308.81,568.1 1310.43,568.14 1312.05,568.18 1313.67,568.23 1315.29,568.28 1316.91,568.33 1318.53,568.38 1320.15,568.43 1321.77,568.49 1323.39,568.55 1325.01,568.62 1326.63,568.69 1328.25,568.76 1329.87,568.83 1331.49,568.91 1333.11,569 1334.73,569.09 1336.35,569.18 1337.97,569.28 1339.59,569.39 1341.21,569.5 1342.83,569.62 1344.45,569.75 1346.07,569.88 1347.69,570.03 1349.31,570.18 1350.93,570.35 1352.55,570.53 1354.17,570.72 1355.79,570.93 1357.41,571.16 1359.03,571.4 1360.65,571.66 1362.27,571.95 1363.89,572.26 1365.51,572.59 1367.13,572.96 1368.75,573.37 1370.37,573.81 1371.99,574.3 1373.61,574.85 1375.23,575.45 1376.85,576.12 1378.47,576.87 1380.09,577.71 1381.71,578.67 1383.33,579.76 1384.95,581.01 1386.57,582.46 1388.19,584.16 1389.81,586.18 1391.43,588.61 1393.05,591.61 1394.67,595.35 1396.29,600.09 1397.91,606.15 1399.53,613.89 1401.15,623.68 1402.77,635.77 1404.39,650.31 1406.01,667.38 1407.63,687.2 1409.25,710.34 1410.87,737.97 1412.49,772.08 1414.11,815.52 1415.73,866.99 1417.35,887.56 1418.97,843.94 1420.59,795 1422.21,757.02 1423.83,727.72 1425.45,704.52 1427.07,685.68 1428.69,670.11 1430.31,657.06 1431.93,646.01 1433.55,636.57 1435.17,628.45 1436.79,621.43 1438.41,615.32 1440.03,609.99 1441.65,605.31 1443.27,601.19 1444.89,597.56 1446.51,594.34 1448.13,591.49 1449.75,588.95 1451.37,586.69 1452.99,584.67 1454.61,582.86 1456.23,581.25 1457.85,579.8 1459.47,578.51 1461.09,577.35 1462.71,576.32 1464.33,575.39 1465.95,574.56 1467.57,573.82 1469.19,573.16 1470.81,572.56 1472.43,572.03 1474.05,571.56 1475.67,571.14 1477.29,570.76 1478.91,570.43 1480.53,570.12 1482.15,569.86 1483.77,569.61 1485.39,569.4 1487.01,569.21 1488.63,569.03 1490.25,568.87 1491.87,568.73 1493.49,568.61 1495.11,568.49 1496.73,568.39 1498.35,568.29 1499.97,568.21 1501.59,568.13 1503.21,568.06 1504.83,567.99 1506.45,567.93 1508.07,567.87 1509.69,567.82 1511.31,567.78 1512.93,567.73 1514.55,567.69 1516.17,567.65 1517.79,567.62 1519.41,567.58 1521.03,567.55 1522.65,567.52 1524.27,567.49 1525.89,567.47 1527.51,567.44 1529.13,567.42 1530.75,567.4 1532.37,567.38 1533.99,567.36 1535.61,567.34 1537.23,567.32 1538.85,567.3 1540.47,567.29 1542.09,567.27 1543.71,567.26 1545.33,567.24 1546.95,567.23 1548.57,567.22 1550.19,567.2 1551.81,567.19 1553.43,567.18 1555.05,567.17 1556.67,567.16 1558.29,567.15 1559.91,567.14 1561.53,567.13 1563.15,567.12 1564.77,567.11 1566.39,567.1 1568.01,567.09 1569.63,567.09 1571.25,567.08 1572.87,567.07 1574.49,567.06 1576.11,567.06 1577.73,567.05 1579.35,567.04 1580.97,567.04 1582.59,567.03 1584.21,567.02 1585.83,567.02 1587.45,567.01 1589.07,567.01 1590.69,567 1592.31,567 1593.93,566.99 1595.55,566.99 1597.17,566.98 1598.79,566.98 1600.41,566.97 1602.03,566.97 1603.65,566.96 1605.27,566.96 1606.89,566.95 1608.51,566.95 1610.13,566.95 1611.75,566.94 1613.37,566.94 1614.99,566.94 1616.61,566.93 1618.23,566.93 1619.85,566.93 1621.47,566.92 1623.09,566.92 1624.71,566.92" fill="none" stroke="#808000" stroke-width="2.9" stroke-linejoin="round" marker-mid="url(#m9)"/>
<polyline points="975.11,566.81 976.73,566.81 978.35,566.82 979.97,566.82 981.59,566.82 983.21,566.82 984.83,566.82 986.45,566.82 988.07,566.82 989.69,566.82 991.31,566.82 992.93,566.82 994.55,566.82 996.17,566.82 997.79,566.82 999.41,566.83 1001.03,566.83 1002.65,566.83 1004.27,566.83 1005.89,566.83 1007.51,566.83 1009.13,566.83 1010.75,566.83 1012.37,566.83 1013.99,566.83 1015.61,566.83 1017.23,566.84 1018.85,566.84 1020.47,566.84 1022.09,566.84 1023.71,566.84 1025.33,566.84 1026.95,566.84 1028.57,566.84 1030.19,566.84 1031.81,566.84 1033.43,566.85 1035.05,566.85 1036.67,566.85 1038.29,566.85 1039.91,566.85 1041.53,566.85 1043.15,566.85 1044.77,566.85 1046.39,566.86 1048.01,566.86 1049.63,566.86 1051.25,566.86 1052.87,566.86 1054.49,566.86 1056.11,566.86 1057.73,566.86 1059.35,566.87 1060.97,566.87 1062.59,566.87 1064.21,566.87 1065.83,566.87 1067.45,566.87 1069.07,566.87 1070.69,566.87 1072.31,566.88 1073.93,566.88 1075.55,566.88 1077.17,566.88 1078.79,566.88 1080.41,566.88 1082.03,566.89 1083.65,566.89 1085.27,566.89 1086.89,566.89 1088.51,566.89 1090.13,566.89 1091.75,566.9 1093.37,566.9 1094.99,566.9 1096.61,566.9 1098.23,566.9 1099.85,566.9 1101.47,566.91 1103.09,566.91 1104.71,566.91 1106.33,566.91 1107.95,566.91 1109.57,566.92 1111.19,566.92 1112.81,566.92 1114.43,566.92 1116.05,566.93 1117.67,566.93 1119.29,566.93 1120.91,566.93 1122.53,566.93 1124.15,566.94 1125.77,566.94 1127.39,566.94 1129.01,566.94 1130.63,566.95 1132.25,566.95 1133.87,566.95 1135.49,566.95 1137.11,566.96 1138.73,566.96 1140.35,566.96 1141.97,566.97 1143.59,566.97 1145.21,566.97 1146.83,566.97 1148.45,566.98 1150.07,566.98 1151.69,566.98 1153.31,566.99 1154.93,566.99 1156.55,566.99 1158.17,567 1159.79,567 1161.41,567 1163.03,567.01 1164.65,567.01 1166.27,567.02 1167.89,567.02 1169.51,567.02 1171.13,567.03 1172.75,567.03 1174.37,567.04 1175.99,567.04 1177.61,567.04 1179.23,567.05 1180.85,567.05 1182.47,567.06 1184.09,567.06 1185.71,567.07 1187.33,567.07 1188.95,567.08 1190.57,567.08 1192.19,567.09 1193.81,567.09 1195.43,567.1 1197.05,567.1 1198.67,567.11 1200.29,567.11 1201.91,567.12 1203.53,567.13 1205.15,567.13 1206.77,567.14 1208.39,567.14 1210.01,567.15 1211.63,567.16 1213.25,567.16 1214.87,567.17 1216.49,567.18 1218.11,567.19 1219.73,567.19 1221.35,567.2 1222.97,567.21 1224.59,567.22 1226.21,567.22 1227.83,567.23 1229.45,567.24 1231.07,567.25 1232.69,567.26 1234.31,567.27 1235.93,567.28 1237.55,567.29 1239.17,567.3 1240.79,567.31 1242.41,567.32 1244.03,567.33 1245.65,567.34 1247.27,567.35 1248.89,567.36 1250.51,567.38 1252.13,567.39 1253.75,567.4 1255.37,567.42 1256.99,567.43 1258.61,567.44 1260.23,567.46 1261.85,567.47 1263.47,567.49 1265.09,567.5 1266.71,567.52 1268.33,567.54 1269.95,567.55 1271.57,567.57 1273.19,567.59 1274.81,567.61 1276.43,567.63 1278.05,567.65 1279.67,567.67 1281.29,567.69 1282.91,567.71 1284.53,567.74 1286.15,567.76 1287.77,567.79 1289.39,567.81 1291.01,567.84 1292.63,567.87 1294.25,567.9 1295.87,567.93 1297.49,567.96 1299.11,567.99 1300.73,568.02 1302.35,568.06 1303.97,568.09 1305.59,568.13 1307.21,568.17 1308.83,568.21 1310.45,568.25 1312.07,568.3 1313.69,568.34 1315.31,568.39 1316.93,568.44 1318.55,568.5 1320.17,568.55 1321.79,568.61 1323.41,568.67 1325.03,568.74 1326.65,568.8 1328.27,568.87 1329.89,568.95 1331.51,569.02 1333.13,569.11 1334.75,569.19 1336.37,569.28 1337.99,569.38 1339.61,569.48 1341.23,569.59 1342.85,569.7 1344.47,569.82 1346.09,569.95 1347.71,570.09 1349.33,570.23 1350.95,570.39 1352.57,570.55 1354.19,570.73 1355.81,570.91 1357.43,571.12 1359.05,571.33 1360.67,571.56 1362.29,571.81 1363.91,572.08 1365.53,572.37 1367.15,572.69 1368.77,573.03 1370.39,573.4 1372.01,573.8 1373.63,574.24 1375.25,574.72 1376.87,575.25 1378.49,575.84 1380.11,576.48 1381.73,577.19 1383.35,577.98 1384.97,578.87 1386.59,579.86 1388.21,580.98 1389.83,582.24 1391.45,583.69 1393.07,585.36 1394.69,587.3 1396.31,589.59 1397.93,592.31 1399.55,595.61 1401.17,599.65 1402.79,604.68 1404.41,610.97 1406.03,618.83 1407.65,628.55 1409.27,640.36 1410.89,654.4 1412.51,670.83 1414.13,689.94 1415.75,712.39 1417.37,739.4 1418.99,772.97 1420.61,815.88 1422.23,866.67 1423.85,886.87 1425.47,843.6 1427.09,794.84 1428.71,756.93 1430.33,727.67 1431.95,704.48 1433.57,685.66 1435.19,670.09 1436.81,657.05 1438.43,646 1440.05,636.56 1441.67,628.44 1443.29,621.42 1444.91,615.32 1446.53,609.98 1448.15,605.31 1449.77,601.19 1451.39,597.56 1453.01,594.34 1454.63,591.49 1456.25,588.95 1457.87,586.69 1459.49,584.67 1461.11,582.86 1462.73,581.25 1464.35,579.8 1465.97,578.51 1467.59,577.35 1469.21,576.32 1470.83,575.39 1472.45,574.56 1474.07,573.82 1475.69,573.16 1477.31,572.56 1478.93,572.03 1480.55,571.56 1482.17,571.14 1483.79,570.76 1485.41,570.43 1487.03,570.12 1488.65,569.86 1490.27,569.61 1491.89,569.4 1493.51,569.21 1495.13,569.03 1496.75,568.87 1498.37,568.73 1499.99,568.61 1501.61,568.49 1503.23,568.39 1504.85,568.29 1506.47,568.21 1508.09,568.13 1509.71,568.06 1511.33,567.99 1512.95,567.93 1514.57,567.87 1516.19,567.82 1517.81,567.78 1519.43,567.73 1521.05,567.69 1522.67,567.65 1524.29,567.62 1525.91,567.58 1527.53,567.55 1529.15,567.52 1530.77,567.49 1532.39,567.47 1534.01,567.44 1535.63,567.42 1537.25,567.4 1538.87,567.38 1540.49,567.36 1542.11,567.34 1543.73,567.32 1545.35,567.3 1546.97,567.29 1548.59,567.27 1550.21,567.26 1551.83,567.24 1553.45,567.23 1555.07,567.22 1556.69,567.2 1558.31,567.19 1559.93,567.18 1561.55,567.17 1563.17,567.16 1564.79,567.15 1566.41,567.14 1568.03,567.13 1569.65,567.12 1571.27,567.11 1572.89,567.1 1574.51,567.09 1576.13,567.09 1577.75,567.08 1579.37,567.07 1580.99,567.06 1582.61,567.06 1584.23,567.05 1585.85,567.04 1587.47,567.04 1589.09,567.03 1590.71,567.02 1592.33,567.02 1593.95,567.01 1595.57,567.01 1597.19,567 1598.81,567 1600.43,566.99 1602.05,566.99 1603.67,566.98 1605.29,566.98 1606.91,566.97 1608.53,566.97 1610.15,566.96 1611.77,566.96 1613.39,566.95 1615.01,566.95 1616.63,566.95 1618.25,566.94 1619.87,566.94 1621.49,566.94 1623.11,566.93 1624.73,566.93" fill="none" stroke="#2a63a8" stroke-width="2.9" stroke-linejoin="round" marker-mid="url(#m10)"/>
</g>
<line x1="973.7" y1="562.7" x2="1624.8" y2="562.7" stroke="#000" stroke-width="3.6" />
<line x1="973.7" y1="1062.3" x2="1624.8" y2="1062.3" stroke="#000" stroke-width="3.6" />
<line x1="975.5" y1="562.7" x2="975.5" y2="1062.3" stroke="#000" stroke-width="3.6" />
<line x1="1623" y1="562.7" x2="1623" y2="1062.3" stroke="#000" stroke-width="3.6" />
<line x1="965.5" y1="562.7" x2="975.5" y2="562.7" stroke="#000" stroke-width="3.2" />
<text transform="translate(959.8,572.1) scale(1,1.05)" font-size="32" font-weight="bold" text-anchor="end" fill="#000" letter-spacing="1.4">0</text>
<line x1="969.5" y1="598.55" x2="975.5" y2="598.55" stroke="#000" stroke-width="3" />
<line x1="1623" y1="598.55" x2="1619" y2="598.55" stroke="#000" stroke-width="3" />
<line x1="965.5" y1="634.4" x2="975.5" y2="634.4" stroke="#000" stroke-width="3.2" />
<line x1="1623" y1="634.4" x2="1615" y2="634.4" stroke="#000" stroke-width="3.2" />
<text transform="translate(959.8,643.8) scale(1,1.05)" font-size="32" font-weight="bold" text-anchor="end" fill="#000" letter-spacing="1.4">-5</text>
<line x1="969.5" y1="670.25" x2="975.5" y2="670.25" stroke="#000" stroke-width="3" />
<line x1="1623" y1="670.25" x2="1619" y2="670.25" stroke="#000" stroke-width="3" />
<line x1="965.5" y1="706.1" x2="975.5" y2="706.1" stroke="#000" stroke-width="3.2" />
<line x1="1623" y1="706.1" x2="1615" y2="706.1" stroke="#000" stroke-width="3.2" />
<text transform="translate(959.8,715.5) scale(1,1.05)" font-size="32" font-weight="bold" text-anchor="end" fill="#000" letter-spacing="1.4">-10</text>
<line x1="969.5" y1="741.95" x2="975.5" y2="741.95" stroke="#000" stroke-width="3" />
<line x1="1623" y1="741.95" x2="1619" y2="741.95" stroke="#000" stroke-width="3" />
<line x1="965.5" y1="777.8" x2="975.5" y2="777.8" stroke="#000" stroke-width="3.2" />
<line x1="1623" y1="777.8" x2="1615" y2="777.8" stroke="#000" stroke-width="3.2" />
<text transform="translate(959.8,787.2) scale(1,1.05)" font-size="32" font-weight="bold" text-anchor="end" fill="#000" letter-spacing="1.4">-15</text>
<line x1="969.5" y1="813.65" x2="975.5" y2="813.65" stroke="#000" stroke-width="3" />
<line x1="1623" y1="813.65" x2="1619" y2="813.65" stroke="#000" stroke-width="3" />
<line x1="965.5" y1="849.5" x2="975.5" y2="849.5" stroke="#000" stroke-width="3.2" />
<line x1="1623" y1="849.5" x2="1615" y2="849.5" stroke="#000" stroke-width="3.2" />
<text transform="translate(959.8,858.9) scale(1,1.05)" font-size="32" font-weight="bold" text-anchor="end" fill="#000" letter-spacing="1.4">-20</text>
<line x1="969.5" y1="885.35" x2="975.5" y2="885.35" stroke="#000" stroke-width="3" />
<line x1="1623" y1="885.35" x2="1619" y2="885.35" stroke="#000" stroke-width="3" />
<line x1="965.5" y1="921.2" x2="975.5" y2="921.2" stroke="#000" stroke-width="3.2" />
<line x1="1623" y1="921.2" x2="1615" y2="921.2" stroke="#000" stroke-width="3.2" />
<text transform="translate(959.8,930.6) scale(1,1.05)" font-size="32" font-weight="bold" text-anchor="end" fill="#000" letter-spacing="1.4">-25</text>
<line x1="969.5" y1="957.05" x2="975.5" y2="957.05" stroke="#000" stroke-width="3" />
<line x1="1623" y1="957.05" x2="1619" y2="957.05" stroke="#000" stroke-width="3" />
<line x1="965.5" y1="992.9" x2="975.5" y2="992.9" stroke="#000" stroke-width="3.2" />
<line x1="1623" y1="992.9" x2="1615" y2="992.9" stroke="#000" stroke-width="3.2" />
<text transform="translate(959.8,1002.3) scale(1,1.05)" font-size="32" font-weight="bold" text-anchor="end" fill="#000" letter-spacing="1.4">-30</text>
<line x1="969.5" y1="1028.75" x2="975.5" y2="1028.75" stroke="#000" stroke-width="3" />
<line x1="1623" y1="1028.75" x2="1619" y2="1028.75" stroke="#000" stroke-width="3" />
<line x1="965.5" y1="1064.6" x2="975.5" y2="1064.6" stroke="#000" stroke-width="3.2" />
<text transform="translate(959.8,1074) scale(1,1.05)" font-size="32" font-weight="bold" text-anchor="end" fill="#000" letter-spacing="1.4">-35</text>
<line x1="975.5" y1="1062.3" x2="975.5" y2="1073.8" stroke="#000" stroke-width="3.2" />
<text transform="translate(976.7,1103) scale(1,1.05)" font-size="32" font-weight="bold" text-anchor="middle" fill="#000" letter-spacing="2.4">12</text>
<line x1="1083.38" y1="1062.3" x2="1083.38" y2="1069.5" stroke="#000" stroke-width="3" />
<line x1="1191.25" y1="1062.3" x2="1191.25" y2="1073.8" stroke="#000" stroke-width="3.2" />
<text transform="translate(1192.45,1103) scale(1,1.05)" font-size="32" font-weight="bold" text-anchor="middle" fill="#000" letter-spacing="2.4">13</text>
<line x1="1299.12" y1="1062.3" x2="1299.12" y2="1069.5" stroke="#000" stroke-width="3" />
<line x1="1407" y1="1062.3" x2="1407" y2="1073.8" stroke="#000" stroke-width="3.2" />
<text transform="translate(1408.2,1103) scale(1,1.05)" font-size="32" font-weight="bold" text-anchor="middle" fill="#000" letter-spacing="2.4">14</text>
<line x1="1514.88" y1="1062.3" x2="1514.88" y2="1069.5" stroke="#000" stroke-width="3" />
<line x1="1622.75" y1="1062.3" x2="1622.75" y2="1073.8" stroke="#000" stroke-width="3.2" />
<text transform="translate(1623.95,1103) scale(1,1.05)" font-size="32" font-weight="bold" text-anchor="middle" fill="#000" letter-spacing="2.4">15</text>
<text transform="translate(1143,1146) scale(1,1.05)" font-size="37.5" font-weight="bold" text-anchor="start" fill="#000" textLength="314" lengthAdjust="spacing">Frequency (MHz)</text>
<g transform="translate(881,963) rotate(-90)">
<text transform="translate(0,0) scale(1,1.05)" font-size="39" font-weight="bold" text-anchor="start" fill="#000" textLength="280" lengthAdjust="spacing">Reflection (dB)</text>
</g>
<text x="1005.5" y="638.6" font-size="45.5" font-weight="bold" text-anchor="start" fill="#000" textLength="59.5" lengthAdjust="spacingAndGlyphs">(e)</text>
<text transform="translate(1488,655.3) scale(1,1.05)" font-size="28.5" font-weight="bold" text-anchor="start" fill="#000" >V</text>
<text transform="translate(1510.5,667.5) scale(1,1.05)" font-size="16.5" font-weight="bold" text-anchor="start" fill="#000" textLength="52" lengthAdjust="spacing">TUNE</text>
<line x1="1463.5" y1="696.2" x2="1529" y2="696.2" stroke="#000000" stroke-width="2.8" />
<rect x="1491.69" y="692.59" width="7.22" height="7.22" fill="#000000"/>
<text transform="translate(1535,705.8) scale(1,1.05)" font-size="26.5" font-weight="normal" text-anchor="start" fill="#000" letter-spacing="1.3">0 V</text>
<line x1="1463.5" y1="729.76" x2="1529" y2="729.76" stroke="#ff0000" stroke-width="2.8" />
<circle cx="1495.3" cy="729.76" r="4.56" fill="#ff0000"/>
<text transform="translate(1535,739.36) scale(1,1.05)" font-size="26.5" font-weight="normal" text-anchor="start" fill="#000" letter-spacing="1.3">0.5 V</text>
<line x1="1463.5" y1="763.32" x2="1529" y2="763.32" stroke="#0000ff" stroke-width="2.8" />
<path d="M1489.69,767.8L1500.9,767.8L1495.3,757.72Z" fill="#0000ff"/>
<text transform="translate(1535,772.92) scale(1,1.05)" font-size="26.5" font-weight="normal" text-anchor="start" fill="#000" letter-spacing="1.3">1.0 V</text>
<line x1="1463.5" y1="796.88" x2="1529" y2="796.88" stroke="#ff00ff" stroke-width="2.8" />
<path d="M1489.69,792.4L1500.9,792.4L1495.3,802.49Z" fill="#ff00ff"/>
<text transform="translate(1535,806.48) scale(1,1.05)" font-size="26.5" font-weight="normal" text-anchor="start" fill="#000" letter-spacing="1.3">1.5V</text>
<line x1="1463.5" y1="830.44" x2="1529" y2="830.44" stroke="#008000" stroke-width="2.8" />
<path d="M1489.6,830.44L1495.3,824.74L1501,830.44L1495.3,836.14Z" fill="#008000"/>
<text transform="translate(1535,840.04) scale(1,1.05)" font-size="26.5" font-weight="normal" text-anchor="start" fill="#000" letter-spacing="1.3">2.0 V</text>
<line x1="1463.5" y1="864" x2="1529" y2="864" stroke="#000080" stroke-width="2.8" />
<path d="M1499.78,858.39L1499.78,869.61L1489.69,864Z" fill="#000080"/>
<text transform="translate(1535,873.6) scale(1,1.05)" font-size="26.5" font-weight="normal" text-anchor="start" fill="#000" letter-spacing="1.3">2.5 V</text>
<line x1="1463.5" y1="897.56" x2="1529" y2="897.56" stroke="#8000ff" stroke-width="2.8" />
<path d="M1490.82,891.96L1490.82,903.17L1500.9,897.56Z" fill="#8000ff"/>
<text transform="translate(1535,907.16) scale(1,1.05)" font-size="26.5" font-weight="normal" text-anchor="start" fill="#000" letter-spacing="1.3">3.0 V</text>
<line x1="1463.5" y1="931.12" x2="1529" y2="931.12" stroke="#800080" stroke-width="2.8" />
<circle cx="1495.3" cy="931.12" r="4.75" fill="#800080"/>
<text transform="translate(1535,940.72) scale(1,1.05)" font-size="26.5" font-weight="normal" text-anchor="start" fill="#000" letter-spacing="1.3">3.5 V</text>
<line x1="1463.5" y1="964.68" x2="1529" y2="964.68" stroke="#800000" stroke-width="2.8" />
<path d="M1491.12,964.68L1495.3,960.5L1499.48,964.68L1495.3,968.86Z" fill="#800000"/>
<text transform="translate(1535,974.28) scale(1,1.05)" font-size="26.5" font-weight="normal" text-anchor="start" fill="#000" letter-spacing="1.3">4.0 V</text>
<line x1="1463.5" y1="998.24" x2="1529" y2="998.24" stroke="#808000" stroke-width="2.8" />
<rect x="1491.6" y="994.53" width="7.41" height="7.41" fill="#808000"/>
<text transform="translate(1535,1007.84) scale(1,1.05)" font-size="26.5" font-weight="normal" text-anchor="start" fill="#000" letter-spacing="1.3">4.5 V</text>
<line x1="1463.5" y1="1031.8" x2="1529" y2="1031.8" stroke="#2a63a8" stroke-width="2.8" />
<path d="M1491.78,1031.8L1495.3,1028.29L1498.82,1031.8L1495.3,1035.32Z" fill="#2a63a8"/>
<text transform="translate(1535,1041.4) scale(1,1.05)" font-size="26.5" font-weight="normal" text-anchor="start" fill="#000" letter-spacing="1.3">5.0 V</text>
</svg>
</body></html>
